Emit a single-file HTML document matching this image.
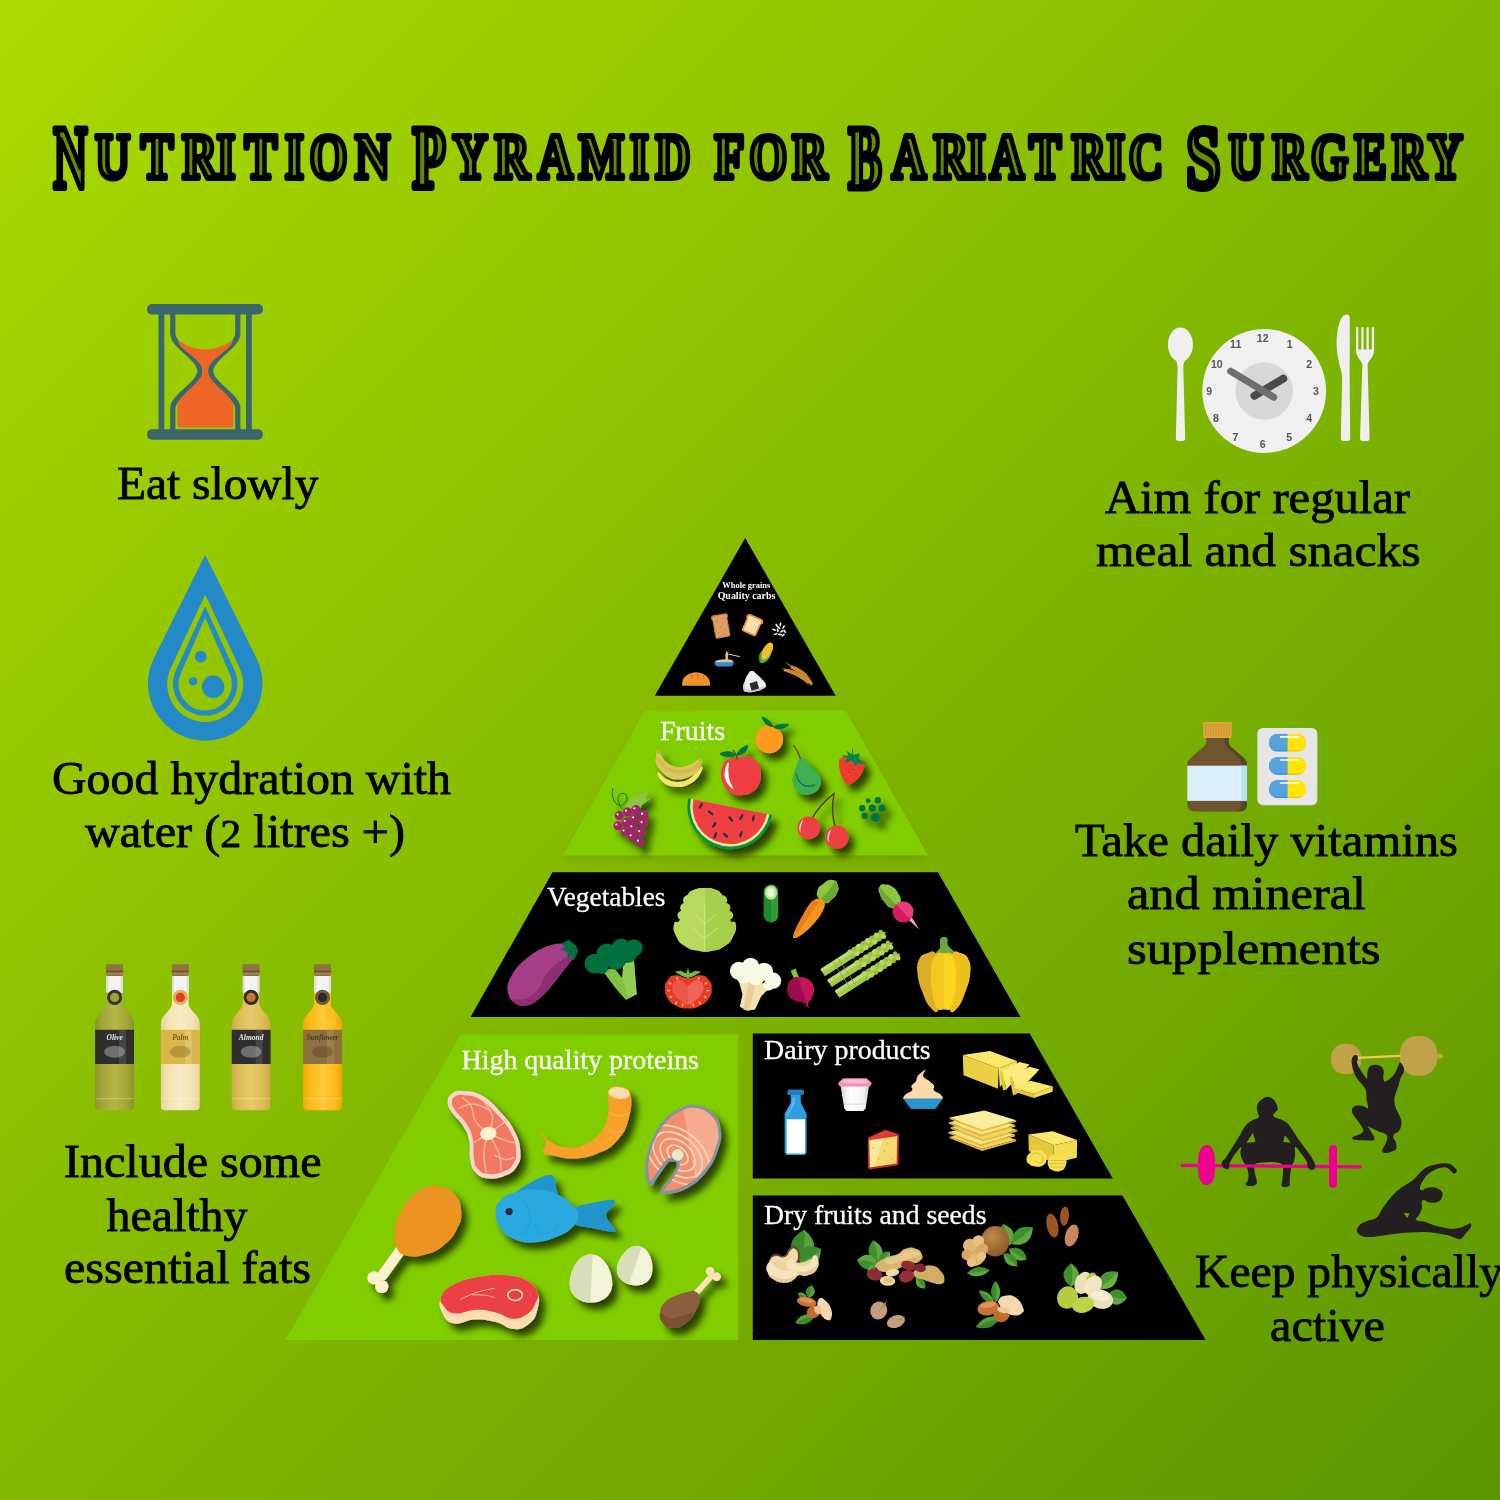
<!DOCTYPE html>
<html lang="en">
<head>
<meta charset="utf-8">
<title>Nutrition Pyramid for Bariatric Surgery</title>
<style>
html,body{margin:0;padding:0;}
body{width:1500px;height:1500px;overflow:hidden;background:#83b801;}
svg{display:block;}
.lbl{font-family:"Liberation Serif","DejaVu Serif",serif;font-size:46px;fill:#000;stroke:#000;stroke-width:0.8px;}
.cat{font-family:"Liberation Serif","DejaVu Serif",serif;font-size:28px;fill:#fff;stroke:#fff;stroke-width:0.3px;}
.ttl{font-family:"Liberation Serif","DejaVu Serif",serif;font-weight:bold;}
</style>
</head>
<body>
<svg width="1500" height="1500" viewBox="0 0 1500 1500">
<defs>
<linearGradient id="bg" gradientUnits="userSpaceOnUse" x1="0" y1="0" x2="1500" y2="1500">
<stop offset="0" stop-color="#abda00"/><stop offset="1" stop-color="#5b9602"/>
</linearGradient>
<filter id="sh" x="-30%" y="-30%" width="180%" height="180%">
<feGaussianBlur in="SourceAlpha" stdDeviation="3.6"/>
<feOffset dx="5.5" dy="6.5" result="o"/>
<feComponentTransfer><feFuncA type="linear" slope="0.68"/></feComponentTransfer>
<feMerge><feMergeNode/><feMergeNode in="SourceGraphic"/></feMerge>
</filter>
<filter id="shp" x="-10%" y="-10%" width="120%" height="130%">
<feGaussianBlur in="SourceAlpha" stdDeviation="5"/>
<feOffset dx="0" dy="5" result="o"/>
<feComponentTransfer><feFuncA type="linear" slope="0.1"/></feComponentTransfer>
<feMerge><feMergeNode/><feMergeNode in="SourceGraphic"/></feMerge>
</filter>
</defs>
<rect width="1500" height="1500" fill="url(#bg)"/>
<!-- title -->
<g class="ttl" opacity="0.999" text-anchor="middle" fill="#648c00" stroke="#000" stroke-width="6.0" stroke-linejoin="round">
<text x="70.3 112.6 157.0 199.6 226.0 260.8 294.4 328.6 372.4" y="187.2 177.6 177.6 177.6 177.6 177.6 177.6 177.6 177.6" font-size="63.5"><tspan font-size="88.0" stroke-width="7.2" textLength="33.7" lengthAdjust="spacingAndGlyphs">N</tspan><tspan textLength="244.0" lengthAdjust="spacingAndGlyphs" style="text-transform:uppercase">utrition</tspan></text>
<text x="429.2 470.2 512.2 555.4 601.6 639.4 673.0" y="187.2 177.6 177.6 177.6 177.6 177.6 177.6" font-size="63.5"><tspan font-size="88.0" stroke-width="7.2" textLength="33.3" lengthAdjust="spacingAndGlyphs">P</tspan><tspan textLength="203.7" lengthAdjust="spacingAndGlyphs" style="text-transform:uppercase">yramid</tspan></text>
<text x="729.4 768.4 809.8" y="177.6" font-size="63.5"><tspan textLength="101.9" lengthAdjust="spacingAndGlyphs" style="text-transform:uppercase">for</tspan></text>
<text x="865.0 908.8 950.8 976.6 1007.0 1045.0 1088.8 1115.8 1145.8" y="187.2 177.6 177.6 177.6 177.6 177.6 177.6 177.6 177.6" font-size="63.5"><tspan font-size="88.0" stroke-width="7.2" textLength="33.5" lengthAdjust="spacingAndGlyphs">B</tspan><tspan textLength="240.4" lengthAdjust="spacingAndGlyphs" style="text-transform:uppercase">ariatric</tspan></text>
<text x="1203.4 1246.0 1289.8 1329.6 1370.4 1409.4 1445.4" y="187.2 177.6 177.6 177.6 177.6 177.6 177.6" font-size="63.5"><tspan font-size="88.0" stroke-width="7.2" textLength="34.3" lengthAdjust="spacingAndGlyphs">S</tspan><tspan textLength="207.4" lengthAdjust="spacingAndGlyphs" style="text-transform:uppercase">urgery</tspan></text>
</g>
<!-- side labels -->
<g class="lbl" opacity="0.999">
<text x="117" y="499.3" textLength="201.5" lengthAdjust="spacingAndGlyphs">Eat slowly</text>
<text x="52" y="794" textLength="399" lengthAdjust="spacingAndGlyphs">Good hydration with</text>
<text x="85" y="846.5" textLength="320" lengthAdjust="spacingAndGlyphs">water (<tspan font-size="40">2</tspan> litres +)</text>
<text x="64" y="1177.3" textLength="257.5" lengthAdjust="spacingAndGlyphs">Include some</text>
<text x="106.5" y="1230.7" textLength="141" lengthAdjust="spacingAndGlyphs">healthy</text>
<text x="64" y="1282.7" textLength="247" lengthAdjust="spacingAndGlyphs">essential fats</text>
<text x="1105" y="512.5" textLength="305" lengthAdjust="spacingAndGlyphs">Aim for regular</text>
<text x="1096" y="566.1" textLength="324.5" lengthAdjust="spacingAndGlyphs">meal and snacks</text>
<text x="1075" y="856" textLength="383" lengthAdjust="spacingAndGlyphs">Take daily vitamins</text>
<text x="1127" y="909.1" textLength="239" lengthAdjust="spacingAndGlyphs">and mineral</text>
<text x="1127" y="964" textLength="253.5" lengthAdjust="spacingAndGlyphs">supplements</text>
<text x="1195" y="1286.9" textLength="308" lengthAdjust="spacingAndGlyphs">Keep physically</text>
<text x="1270" y="1341.3" textLength="115" lengthAdjust="spacingAndGlyphs">active</text>
</g>
<!-- pyramid -->
<g>
<polygon points="745.2,538 835.6,695.8 654.8,695.8" fill="#000"/>
<polygon points="645,710.4 845.6,710.4 927.8,855.2 562.8,855.2" fill="#81cd00" filter="url(#shp)"/>
<polygon points="552.5,872.2 938,872.2 1020.5,1017 470.6,1017" fill="#000"/>
<polygon points="460.8,1034.4 738.2,1034.4 738.2,1340 285.5,1340" fill="#81cd00"/>
<polygon points="752.8,1033.4 1029.6,1033.4 1112.8,1178.4 752.8,1178.4" fill="#000"/>
<polygon points="752.8,1195.4 1122.4,1195.4 1205.6,1340 752.8,1340" fill="#000"/>
</g>
<g class="cat" opacity="0.999">
<text x="660" y="740.4" textLength="65" lengthAdjust="spacingAndGlyphs">Fruits</text>
<text x="547" y="905.6" textLength="118.5" lengthAdjust="spacingAndGlyphs">Vegetables</text>
<text x="461.5" y="1069.4" textLength="237.5" lengthAdjust="spacingAndGlyphs">High quality proteins</text>
<text x="764" y="1058.6" textLength="166.5" lengthAdjust="spacingAndGlyphs">Dairy products</text>
<text x="764" y="1224.0" textLength="222.5" lengthAdjust="spacingAndGlyphs">Dry fruits and seeds</text>
</g>
<g font-family='"Liberation Serif","DejaVu Serif",serif' font-weight="bold" fill="#fff" text-anchor="middle" opacity="0.999">
<text x="746.3" y="587.6" font-size="8.3" textLength="48" lengthAdjust="spacingAndGlyphs">Whole grains</text>
<text x="746.5" y="599" font-size="10" textLength="57.7" lengthAdjust="spacingAndGlyphs">Quality carbs</text>
</g>
<!-- hourglass -->
<g>
<rect x="147" y="304" width="116" height="10.4" rx="5" fill="#3b666b"/>
<rect x="147" y="429.3" width="116" height="10.4" rx="5" fill="#3b666b"/>
<rect x="158.5" y="312" width="5.8" height="120" fill="#3b666b"/>
<rect x="246" y="312" width="5.8" height="120" fill="#3b666b"/>
<path d="M172.8,312 V334 C172.8,346 200,358 200,371 C200,384 172.8,396 172.8,408 V432 M237.8,312 V334 C237.8,346 210.6,358 210.6,371 C210.6,384 237.8,396 237.8,408 V432" fill="none" stroke="#3b666b" stroke-width="5.2"/>
<path d="M177.6,340 Q205.3,359 233,340 C232,350 208.2,359 207.8,371 C208.2,383 233,395 233.2,406 V424.5 Q233.2,427.6 230,427.6 H180.6 Q177.4,427.6 177.4,424.5 V406 C177.6,395 202.4,383 202.8,371 C202.4,359 178.6,350 177.6,340 Z" fill="#ee6528"/>
</g>
<!-- water drop -->
<g>
<path fill-rule="evenodd" d="M205.2,554.8 L256.4,658.0 A57.2,57.2 0 1 1 154.0,658.0 Z M205.2,594.5 L239.6,667.9 A38.0,38.0 0 1 1 170.8,667.9 Z M205.2,606.2 L234.5,670.2 A32.2,32.2 0 1 1 175.9,670.2 Z M205.2,617.4 L229.6,673.4 A26.6,26.6 0 1 1 180.8,673.4 Z" fill="#2489c7"/>
<circle cx="200.8" cy="656.6" r="5.9" fill="#2489c7"/><circle cx="193.1" cy="681.3" r="4.1" fill="#2489c7"/><circle cx="213.1" cy="686.8" r="11.2" fill="#2489c7"/>
</g>
<!-- plate clock + cutlery -->
<g>
<ellipse cx="1180.4" cy="344.6" rx="12.5" ry="17.2" fill="#efeff0"/>
<path d="M1174,356 C1177,362 1177.6,364 1177.6,368 L1175.8,438.8 Q1175.8,440.9 1178,440.9 H1183 Q1185.2,440.9 1185.2,438.8 L1183.3,368 C1183.3,364 1184,362 1187,356 Z" fill="#efeff0"/>
<circle cx="1264.2" cy="391" r="61.9" fill="#f0f0f1"/>
<circle cx="1264.2" cy="391" r="28.8" fill="#d8d8d8"/>
<g font-family='"Liberation Sans","DejaVu Sans",sans-serif' font-weight="bold" font-size="10.6" fill="#555" text-anchor="middle" opacity="0.999">
<text x="1262.7" y="341.7">12</text><text x="1289.6" y="348.1">1</text><text x="1309.3" y="368.3">2</text><text x="1316.0" y="395.0">3</text><text x="1309.3" y="422.2">4</text><text x="1289.3" y="441.4">5</text><text x="1262.7" y="448.3">6</text><text x="1235.5" y="441.4">7</text><text x="1216.0" y="421.9">8</text><text x="1209.1" y="395.0">9</text><text x="1216.8" y="368.3">10</text><text x="1235.7" y="348.1">11</text>
</g>
<line x1="1254.3" y1="395.8" x2="1283.3" y2="378.6" stroke="#4a4a4a" stroke-width="7.8" stroke-linecap="round"/>
<line x1="1230.7" y1="371.3" x2="1273.8" y2="397.2" stroke="#6e6e6e" stroke-width="7" stroke-linecap="round"/>
<path d="M1346.6,314.4 C1349,314.4 1349.8,316 1349.8,318 L1349.6,375 L1350.2,438.8 Q1350.2,440.9 1348,440.9 H1343 Q1340.8,440.9 1340.8,438.8 L1342.2,376 C1341,368 1336.6,358 1336.6,343 C1336.6,330 1340,314.4 1346.6,314.4 Z" fill="#efeff0"/>
<path d="M1356,327.2 H1358.3 V349.5 H1361.3 V327.2 H1363.6 V349.5 H1366.5 V327.2 H1368.8 V349.5 H1371.8 V327.2 H1374.1 V350 C1374.1,357 1369,360 1367.6,364.5 L1369.6,438.8 Q1369.6,440.9 1367.4,440.9 H1362.2 Q1360,440.9 1360,438.8 L1362.4,364.5 C1361,360 1356,357 1356,350 Z" fill="#efeff0"/>
</g>
<!-- vitamins -->
<g>
<clipPath id="vb"><path d="M1206.3,737 V741 C1206.3,744 1205,745.5 1203,747.3 L1190.5,758 C1188.3,760 1187.3,762 1187.3,765 V804 Q1187.3,811.5 1194.8,811.5 H1239.5 Q1247,811.5 1247,804 V765 C1247,762 1246,760 1243.8,758 L1231.3,747.3 C1229.6,745.5 1228.7,744 1228.7,741 V737 Z"/></clipPath>
<path d="M1206.3,737 V741 C1206.3,744 1205,745.5 1203,747.3 L1190.5,758 C1188.3,760 1187.3,762 1187.3,765 V804 Q1187.3,811.5 1194.8,811.5 H1239.5 Q1247,811.5 1247,804 V765 C1247,762 1246,760 1243.8,758 L1231.3,747.3 C1229.6,745.5 1228.7,744 1228.7,741 V737 Z" fill="#6c5530"/>
<g clip-path="url(#vb)"><path d="M1224.5,737 V741 C1224.5,744 1225.4,745.5 1227.1,747.3 L1238.6,758 C1240.8,760 1241.3,762 1241.3,765 V804 Q1241.3,811.5 1232,811.5 H1250 V737 Z" fill="#584526"/><rect x="1187" y="765.7" width="61" height="35.2" fill="#d9effc"/><rect x="1241.3" y="765.7" width="6" height="35.2" fill="#b3e0f8"/></g>
<rect x="1203.1" y="721.9" width="28.6" height="16" rx="1.3" fill="#e0a63c"/>
<path d="M1205.6,723.5 V736.3 M1208.2,723.5 V736.3 M1210.8,723.5 V736.3 M1213.4,723.5 V736.3 M1216.0,723.5 V736.3 M1218.6,723.5 V736.3 M1221.2,723.5 V736.3 M1223.8,723.5 V736.3 M1226.4,723.5 V736.3 M1229.0,723.5 V736.3" stroke="#cf9833" stroke-width="1.3" fill="none"/>
<rect x="1257.5" y="728.4" width="59.9" height="77" rx="5.3" fill="#c9c9d2"/>
<rect x="1257.5" y="727.9" width="59.6" height="76.6" rx="5.3" fill="#e6e6e6"/>
<clipPath id="cp0"><rect x="1269" y="733.7" width="37" height="18.1" rx="9.0"/></clipPath><g clip-path="url(#cp0)"><rect x="1269" y="733.7" width="18.7" height="18.1" fill="#3f8fd2"/><rect x="1287.7" y="733.7" width="18.4" height="18.1" fill="#f4c400"/><rect x="1269" y="733.7" width="18.7" height="14.9" fill="#55a2dc"/><rect x="1287.7" y="733.7" width="18.4" height="14.9" fill="#ffe600"/><rect x="1269" y="742.2" width="18.7" height="8" rx="4" fill="#55a2dc"/><rect x="1287.7" y="742.2" width="18.4" height="8" rx="4" fill="#ffe600"/><rect x="1280" y="742.2" width="7.7" height="8" fill="#55a2dc"/><rect x="1287.7" y="742.2" width="8" height="8" fill="#ffe600"/></g><line x1="1280.6" y1="736.8" x2="1298.6" y2="736.8" stroke="#fff" stroke-width="1.7" stroke-linecap="round"/>
<clipPath id="cp1"><rect x="1269" y="756.9" width="37" height="18.0" rx="9.0"/></clipPath><g clip-path="url(#cp1)"><rect x="1269" y="756.9" width="18.7" height="18.0" fill="#3f8fd2"/><rect x="1287.7" y="756.9" width="18.4" height="18.0" fill="#f4c400"/><rect x="1269" y="756.9" width="18.7" height="14.8" fill="#55a2dc"/><rect x="1287.7" y="756.9" width="18.4" height="14.8" fill="#ffe600"/><rect x="1269" y="765.3" width="18.7" height="8" rx="4" fill="#55a2dc"/><rect x="1287.7" y="765.3" width="18.4" height="8" rx="4" fill="#ffe600"/><rect x="1280" y="765.3" width="7.7" height="8" fill="#55a2dc"/><rect x="1287.7" y="765.3" width="8" height="8" fill="#ffe600"/></g><line x1="1280.6" y1="760.0" x2="1298.6" y2="760.0" stroke="#fff" stroke-width="1.7" stroke-linecap="round"/>
<clipPath id="cp2"><rect x="1269" y="779.9" width="37" height="18.4" rx="9.2"/></clipPath><g clip-path="url(#cp2)"><rect x="1269" y="779.9" width="18.7" height="18.4" fill="#3f8fd2"/><rect x="1287.7" y="779.9" width="18.4" height="18.4" fill="#f4c400"/><rect x="1269" y="779.9" width="18.7" height="15.2" fill="#55a2dc"/><rect x="1287.7" y="779.9" width="18.4" height="15.2" fill="#ffe600"/><rect x="1269" y="788.7" width="18.7" height="8" rx="4" fill="#55a2dc"/><rect x="1287.7" y="788.7" width="18.4" height="8" rx="4" fill="#ffe600"/><rect x="1280" y="788.7" width="7.7" height="8" fill="#55a2dc"/><rect x="1287.7" y="788.7" width="8" height="8" fill="#ffe600"/></g><line x1="1280.6" y1="783.0" x2="1298.6" y2="783.0" stroke="#fff" stroke-width="1.7" stroke-linecap="round"/>
</g>
<!-- oil bottles -->
<g opacity="0.999">
<linearGradient id="ol1" gradientUnits="userSpaceOnUse" x1="95.1" y1="0" x2="134.0" y2="0"><stop offset="0" stop-color="#8d9130"/><stop offset="0.18" stop-color="#a4a738"/><stop offset="0.5" stop-color="#b3b545"/><stop offset="0.82" stop-color="#a4a738"/><stop offset="1" stop-color="#8d9130"/></linearGradient>
<clipPath id="oc1"><path d="M106.3,975 V1003 C106.3,1011 95.1,1014 95.1,1024 V1106.5 Q95.1,1110.2 99.1,1110.2 H130.0 Q134.0,1110.2 134.0,1106.5 V1024 C134.0,1014 122.9,1011 122.9,1003 V975 Z"/></clipPath>
<path d="M106.3,975 V1003 C106.3,1011 95.1,1014 95.1,1024 V1106.5 Q95.1,1110.2 99.1,1110.2 H130.0 Q134.0,1110.2 134.0,1106.5 V1024 C134.0,1014 122.9,1011 122.9,1003 V975 Z" fill="url(#ol1)"/>
<g clip-path="url(#oc1)"><rect x="105.3" y="974" width="18.6" height="18.5" fill="#f4f4f4"/><rect x="106.3" y="974" width="2" height="18.5" fill="#dcdcdc"/><rect x="120.9" y="974" width="2" height="18.5" fill="#dcdcdc"/><rect x="94.1" y="1029.8" width="40.9" height="34.2" fill="#2e2e2e"/><rect x="119.1" y="1029.8" width="7" height="34.2" fill="#5a5a5a" opacity="0.55"/><rect x="95.1" y="1098" width="38.9" height="1.2" fill="#fff" opacity="0.25"/></g>
<rect x="106.1" y="964.3" width="17" height="11.6" rx="0.8" fill="#8e7442"/><rect x="106.1" y="970.6" width="17" height="1.5" fill="#6b5430"/><rect x="106.1" y="973.3" width="17" height="1" fill="#a88c58"/>
<circle cx="114.6" cy="997.4" r="7.6" fill="#34341f"/><circle cx="114.6" cy="997.4" r="4.6" fill="#9ba23a"/>
<text x="114.6" y="1040" font-family='"Liberation Serif","DejaVu Serif",serif' font-style="italic" font-weight="bold" font-size="7.5" text-anchor="middle" fill="#e8e8e8">Olive</text>
<ellipse cx="114.6" cy="1051.8" rx="10.5" ry="6" fill="#e8e8e8" opacity="0.35"/>
<linearGradient id="ol2" gradientUnits="userSpaceOnUse" x1="160.9" y1="0" x2="199.8" y2="0"><stop offset="0" stop-color="#e6d39a"/><stop offset="0.18" stop-color="#f3e3b2"/><stop offset="0.5" stop-color="#f8ecc8"/><stop offset="0.82" stop-color="#f3e3b2"/><stop offset="1" stop-color="#e6d39a"/></linearGradient>
<clipPath id="oc2"><path d="M172.0,975 V1003 C172.0,1011 160.9,1014 160.9,1024 V1106.5 Q160.9,1110.2 164.9,1110.2 H195.8 Q199.8,1110.2 199.8,1106.5 V1024 C199.8,1014 188.6,1011 188.6,1003 V975 Z"/></clipPath>
<path d="M172.0,975 V1003 C172.0,1011 160.9,1014 160.9,1024 V1106.5 Q160.9,1110.2 164.9,1110.2 H195.8 Q199.8,1110.2 199.8,1106.5 V1024 C199.8,1014 188.6,1011 188.6,1003 V975 Z" fill="url(#ol2)"/>
<g clip-path="url(#oc2)"><rect x="171.0" y="974" width="18.6" height="18.5" fill="#f4f4f4"/><rect x="172.0" y="974" width="2" height="18.5" fill="#dcdcdc"/><rect x="186.6" y="974" width="2" height="18.5" fill="#dcdcdc"/><rect x="159.9" y="1029.8" width="40.9" height="34.2" fill="#d9b54a"/><rect x="184.8" y="1029.8" width="7" height="34.2" fill="#e8cf7a" opacity="0.55"/><rect x="160.9" y="1098" width="38.9" height="1.2" fill="#fff" opacity="0.25"/></g>
<rect x="171.8" y="964.3" width="17" height="11.6" rx="0.8" fill="#8e7442"/><rect x="171.8" y="970.6" width="17" height="1.5" fill="#6b5430"/><rect x="171.8" y="973.3" width="17" height="1" fill="#a88c58"/>
<circle cx="180.3" cy="997.4" r="7.6" fill="#d9b54a"/><circle cx="180.3" cy="997.4" r="4.6" fill="#e23a2e"/>
<text x="180.3" y="1040" font-family='"Liberation Serif","DejaVu Serif",serif' font-style="italic" font-weight="bold" font-size="7.5" text-anchor="middle" fill="#7a5a1e">Palm</text>
<ellipse cx="180.3" cy="1051.8" rx="10.5" ry="6" fill="#7a5a1e" opacity="0.35"/>
<linearGradient id="ol3" gradientUnits="userSpaceOnUse" x1="231.7" y1="0" x2="270.6" y2="0"><stop offset="0" stop-color="#c9a943"/><stop offset="0.18" stop-color="#dbbd55"/><stop offset="0.5" stop-color="#e4ca6a"/><stop offset="0.82" stop-color="#dbbd55"/><stop offset="1" stop-color="#c9a943"/></linearGradient>
<clipPath id="oc3"><path d="M242.8,975 V1003 C242.8,1011 231.7,1014 231.7,1024 V1106.5 Q231.7,1110.2 235.7,1110.2 H266.6 Q270.6,1110.2 270.6,1106.5 V1024 C270.6,1014 259.4,1011 259.4,1003 V975 Z"/></clipPath>
<path d="M242.8,975 V1003 C242.8,1011 231.7,1014 231.7,1024 V1106.5 Q231.7,1110.2 235.7,1110.2 H266.6 Q270.6,1110.2 270.6,1106.5 V1024 C270.6,1014 259.4,1011 259.4,1003 V975 Z" fill="url(#ol3)"/>
<g clip-path="url(#oc3)"><rect x="241.8" y="974" width="18.6" height="18.5" fill="#f4f4f4"/><rect x="242.8" y="974" width="2" height="18.5" fill="#dcdcdc"/><rect x="257.4" y="974" width="2" height="18.5" fill="#dcdcdc"/><rect x="230.7" y="1029.8" width="40.9" height="34.2" fill="#2e2e2e"/><rect x="255.6" y="1029.8" width="7" height="34.2" fill="#5a5a5a" opacity="0.55"/><rect x="231.7" y="1098" width="38.9" height="1.2" fill="#fff" opacity="0.25"/></g>
<rect x="242.6" y="964.3" width="17" height="11.6" rx="0.8" fill="#8e7442"/><rect x="242.6" y="970.6" width="17" height="1.5" fill="#6b5430"/><rect x="242.6" y="973.3" width="17" height="1" fill="#a88c58"/>
<circle cx="251.1" cy="997.4" r="7.6" fill="#34301f"/><circle cx="251.1" cy="997.4" r="4.6" fill="#c8743a"/>
<text x="251.1" y="1040" font-family='"Liberation Serif","DejaVu Serif",serif' font-style="italic" font-weight="bold" font-size="7.5" text-anchor="middle" fill="#e8e8e8">Almond</text>
<ellipse cx="251.1" cy="1051.8" rx="10.5" ry="6" fill="#e8e8e8" opacity="0.35"/>
<linearGradient id="ol4" gradientUnits="userSpaceOnUse" x1="303.1" y1="0" x2="341.9" y2="0"><stop offset="0" stop-color="#f2a60c"/><stop offset="0.18" stop-color="#fdbb18"/><stop offset="0.5" stop-color="#ffc93a"/><stop offset="0.82" stop-color="#fdbb18"/><stop offset="1" stop-color="#f2a60c"/></linearGradient>
<clipPath id="oc4"><path d="M314.2,975 V1003 C314.2,1011 303.1,1014 303.1,1024 V1106.5 Q303.1,1110.2 307.1,1110.2 H337.9 Q341.9,1110.2 341.9,1106.5 V1024 C341.9,1014 330.8,1011 330.8,1003 V975 Z"/></clipPath>
<path d="M314.2,975 V1003 C314.2,1011 303.1,1014 303.1,1024 V1106.5 Q303.1,1110.2 307.1,1110.2 H337.9 Q341.9,1110.2 341.9,1106.5 V1024 C341.9,1014 330.8,1011 330.8,1003 V975 Z" fill="url(#ol4)"/>
<g clip-path="url(#oc4)"><rect x="313.2" y="974" width="18.6" height="18.5" fill="#f4f4f4"/><rect x="314.2" y="974" width="2" height="18.5" fill="#dcdcdc"/><rect x="328.8" y="974" width="2" height="18.5" fill="#dcdcdc"/><rect x="302.1" y="1029.8" width="40.9" height="34.2" fill="#8f7140"/><rect x="327.0" y="1029.8" width="7" height="34.2" fill="#a98a58" opacity="0.55"/><rect x="303.1" y="1098" width="38.9" height="1.2" fill="#fff" opacity="0.25"/></g>
<rect x="314.0" y="964.3" width="17" height="11.6" rx="0.8" fill="#8e7442"/><rect x="314.0" y="970.6" width="17" height="1.5" fill="#6b5430"/><rect x="314.0" y="973.3" width="17" height="1" fill="#a88c58"/>
<circle cx="322.5" cy="997.4" r="7.6" fill="#6e5a34"/><circle cx="322.5" cy="997.4" r="4.6" fill="#2a2a2a"/>
<text x="322.5" y="1040" font-family='"Liberation Serif","DejaVu Serif",serif' font-style="italic" font-weight="bold" font-size="7.5" text-anchor="middle" fill="#4a3a1e">Sunflower</text>
<ellipse cx="322.5" cy="1051.8" rx="10.5" ry="6" fill="#4a3a1e" opacity="0.35"/>
</g>
<!-- exercise figures -->
<g>
<rect x="1198" y="1144.9" width="17.1" height="40.2" rx="8.5" ry="15" fill="#ec008c"/>
<rect x="1329" y="1145.3" width="8" height="42.4" rx="3.4" fill="#ec008c"/>
<path fill-rule="evenodd" d="M1268.0,1096.7C1269.8,1096.8 1271.9,1098.0 1273.3,1099.3C1274.8,1100.7 1275.9,1103.0 1276.7,1104.7C1277.4,1106.4 1278.0,1108.3 1277.7,1109.6C1277.5,1110.9 1276.1,1111.4 1275.3,1112.3C1274.6,1113.2 1273.4,1114.1 1273.3,1114.9C1273.2,1115.8 1273.4,1116.6 1274.7,1117.3C1275.9,1118.1 1278.6,1118.3 1280.7,1119.3C1282.8,1120.3 1285.4,1121.7 1287.3,1123.3C1289.2,1125.0 1290.2,1126.8 1292.0,1129.3C1293.8,1131.9 1296.0,1135.8 1298.0,1138.7C1300.0,1141.6 1302.1,1144.1 1304.0,1146.7C1305.9,1149.2 1307.8,1151.7 1309.3,1154.0C1310.9,1156.3 1312.3,1158.4 1313.3,1160.7C1314.3,1162.9 1315.6,1165.8 1315.3,1167.3C1315.1,1168.8 1313.2,1169.5 1312.0,1169.6C1310.8,1169.7 1309.1,1169.0 1308.3,1167.7C1307.4,1166.5 1308.2,1164.3 1307.1,1162.0C1305.9,1159.7 1303.3,1156.3 1301.3,1153.7C1299.4,1151.2 1296.4,1146.5 1295.3,1146.7C1294.3,1146.8 1295.3,1152.2 1295.1,1154.7C1294.8,1157.1 1294.6,1159.4 1294.0,1161.3C1293.4,1163.2 1292.2,1164.0 1291.6,1166.0C1291.0,1168.0 1290.7,1170.7 1290.4,1173.3C1290.1,1176.0 1289.7,1180.0 1289.6,1182.0C1289.5,1184.0 1290.3,1184.8 1289.7,1185.6C1289.1,1186.4 1287.3,1187.0 1286.0,1187.1C1284.7,1187.2 1282.3,1187.3 1281.7,1186.1C1281.1,1185.0 1282.2,1182.4 1282.4,1180.0C1282.6,1177.6 1283.0,1174.4 1283.1,1172.0C1283.1,1169.6 1283.4,1166.8 1282.8,1165.3C1282.2,1163.8 1281.2,1163.5 1279.3,1162.9C1277.4,1162.4 1274.0,1162.0 1271.3,1161.9C1268.7,1161.8 1265.8,1162.2 1263.3,1162.4C1260.9,1162.6 1258.2,1162.5 1256.7,1163.2C1255.2,1163.9 1254.6,1165.0 1254.3,1166.7C1254.0,1168.4 1254.5,1170.8 1254.9,1173.3C1255.4,1175.9 1256.9,1180.1 1256.9,1182.0C1257.0,1183.9 1256.5,1184.2 1255.3,1184.9C1254.2,1185.6 1251.6,1186.2 1250.0,1186.1C1248.4,1186.0 1245.9,1185.4 1245.6,1184.4C1245.3,1183.4 1247.5,1181.8 1248.0,1180.0C1248.5,1178.2 1248.6,1175.6 1248.4,1173.3C1248.2,1171.1 1247.6,1168.8 1246.7,1166.7C1245.7,1164.6 1243.7,1163.0 1242.7,1160.7C1241.6,1158.3 1240.6,1155.0 1240.4,1152.7C1240.2,1150.3 1242.0,1146.8 1241.3,1146.7C1240.7,1146.6 1238.2,1150.0 1236.7,1152.0C1235.1,1154.0 1233.3,1156.4 1232.0,1158.7C1230.7,1160.9 1229.3,1163.6 1228.7,1165.3C1228.0,1167.1 1228.8,1168.7 1228.0,1169.1C1227.2,1169.4 1224.6,1168.4 1223.6,1167.6C1222.6,1166.8 1221.4,1165.5 1221.7,1164.0C1222.0,1162.5 1223.6,1161.1 1225.3,1158.4C1227.0,1155.7 1229.8,1151.5 1232.0,1148.0C1234.2,1144.5 1236.6,1140.8 1238.7,1137.3C1240.7,1133.9 1242.5,1130.0 1244.4,1127.3C1246.3,1124.7 1248.0,1123.1 1250.0,1121.6C1252.0,1120.1 1255.2,1119.2 1256.7,1118.4C1258.2,1117.6 1258.8,1117.3 1259.1,1116.7C1259.4,1116.0 1258.9,1115.6 1258.5,1114.4C1258.2,1113.2 1257.0,1111.2 1256.9,1109.3C1256.8,1107.5 1257.0,1105.1 1258.0,1103.3C1259.0,1101.6 1261.0,1099.8 1262.7,1098.7C1264.3,1097.6 1266.2,1096.6 1268.0,1096.7Z M1252.8,1132.8 L1246.5,1142.7 L1255.6,1142.1Z M1284.9,1135.2 L1283.2,1142.1 L1290.9,1142.8Z" fill="#231f20"/>
<path d="M1180.7,1165.3 L1361.3,1166.9" stroke="#ec008c" stroke-width="3.3" fill="none"/>
<path d="M1221.7,1164.0C1221.6,1162.7 1222.4,1160.7 1223.3,1160.0C1224.3,1159.3 1226.3,1159.2 1227.3,1160.0C1228.3,1160.8 1229.2,1163.2 1229.3,1164.7C1229.5,1166.2 1229.2,1168.5 1228.3,1169.1C1227.4,1169.6 1225.1,1168.8 1224.0,1168.0C1222.9,1167.2 1221.8,1165.3 1221.7,1164.0Z" fill="#231f20"/><path d="M1308.3,1167.7C1307.5,1166.7 1307.0,1164.6 1307.3,1163.3C1307.6,1162.0 1308.9,1160.3 1310.0,1160.0C1311.1,1159.7 1312.8,1160.4 1313.7,1161.6C1314.6,1162.8 1315.6,1166.0 1315.3,1167.3C1315.0,1168.7 1313.2,1169.7 1312.0,1169.7C1310.8,1169.8 1309.0,1168.8 1308.3,1167.7Z" fill="#231f20"/>
<rect x="1331" y="1043.7" width="30.2" height="30.3" rx="13.5" fill="#c0a24a"/>
<rect x="1400" y="1035.9" width="37.3" height="39.9" rx="17" fill="#c0a24a"/>
<rect x="1434" y="1053.8" width="8.8" height="4.6" rx="2.2" fill="#c0a24a"/>
<path d="M1356,1057.9 L1400.5,1055.8" stroke="#efc85a" stroke-width="2.3" fill="none"/>
<path d="M1355.1,1055.0C1356.0,1054.7 1357.1,1055.2 1357.6,1056.0C1358.0,1056.8 1357.8,1058.9 1357.7,1059.9C1357.6,1060.9 1356.7,1060.7 1357.0,1062.2C1357.4,1063.8 1358.7,1066.8 1359.9,1069.0C1361.1,1071.2 1363.0,1073.9 1364.2,1075.5C1365.4,1077.1 1366.6,1079.0 1367.1,1078.5C1367.6,1078.0 1367.0,1074.4 1367.4,1072.5C1367.8,1070.5 1368.2,1068.1 1369.4,1066.8C1370.7,1065.6 1373.1,1064.9 1375.1,1064.8C1377.0,1064.8 1379.7,1065.4 1381.1,1066.4C1382.6,1067.4 1383.4,1069.0 1383.7,1070.7C1384.1,1072.5 1383.2,1075.0 1383.3,1076.8C1383.4,1078.6 1383.5,1081.1 1384.4,1081.6C1385.4,1082.0 1387.3,1080.6 1388.9,1079.4C1390.6,1078.2 1392.7,1076.2 1394.1,1074.2C1395.6,1072.2 1396.7,1069.2 1397.6,1067.3C1398.5,1065.3 1399.0,1062.9 1399.8,1062.5C1400.6,1062.1 1401.6,1063.3 1402.4,1064.7C1403.1,1066.0 1404.4,1068.5 1404.1,1070.7C1403.8,1073.0 1401.6,1075.6 1400.6,1078.1C1399.7,1080.6 1399.1,1083.4 1398.5,1085.5C1397.8,1087.6 1397.4,1088.6 1396.7,1090.7C1396.1,1092.7 1394.9,1095.1 1394.6,1097.6C1394.3,1100.1 1394.4,1102.8 1395.0,1105.4C1395.6,1108.0 1397.3,1110.7 1398.3,1113.2C1399.3,1115.7 1400.8,1117.8 1401.2,1120.1C1401.7,1122.4 1401.4,1125.1 1400.9,1127.1C1400.4,1129.1 1399.2,1130.9 1398.0,1132.1C1396.9,1133.3 1394.9,1133.1 1394.1,1134.2C1393.4,1135.2 1393.2,1137.1 1393.4,1138.3C1393.7,1139.6 1395.2,1140.1 1395.7,1141.8C1396.2,1143.5 1396.8,1147.1 1396.3,1148.7C1395.8,1150.3 1394.1,1150.6 1392.4,1151.3C1390.7,1152.1 1387.6,1153.1 1385.9,1153.1C1384.2,1153.0 1382.1,1152.3 1382.0,1150.9C1381.9,1149.5 1384.2,1146.9 1385.0,1144.8C1385.9,1142.8 1387.0,1140.5 1387.2,1138.8C1387.4,1137.0 1387.8,1135.6 1386.3,1134.4C1384.9,1133.2 1381.0,1132.6 1378.5,1131.6C1376.1,1130.5 1373.3,1129.0 1371.6,1128.1C1369.9,1127.2 1368.2,1125.8 1368.1,1126.4C1368.0,1126.9 1370.0,1129.8 1370.9,1131.4C1371.8,1133.0 1373.3,1134.7 1373.8,1136.2C1374.2,1137.6 1375.3,1139.6 1373.8,1140.2C1372.2,1140.9 1367.8,1140.3 1364.7,1140.2C1361.5,1140.2 1356.8,1140.1 1354.7,1139.7C1352.6,1139.3 1352.0,1138.5 1352.1,1137.9C1352.2,1137.3 1353.8,1136.6 1355.1,1135.9C1356.5,1135.3 1359.0,1134.9 1360.3,1134.0C1361.7,1133.1 1363.4,1132.1 1363.4,1130.5C1363.4,1128.9 1361.7,1126.6 1360.3,1124.5C1359.0,1122.3 1356.7,1119.6 1355.3,1117.5C1353.9,1115.5 1352.5,1113.9 1352.1,1112.3C1351.7,1110.7 1351.9,1109.1 1352.7,1108.0C1353.5,1106.9 1355.2,1105.9 1356.9,1105.6C1358.6,1105.2 1361.1,1105.5 1362.9,1105.9C1364.8,1106.3 1367.5,1109.1 1368.1,1108.0C1368.7,1106.9 1366.9,1102.2 1366.6,1099.3C1366.2,1096.4 1366.6,1093.0 1366.0,1090.7C1365.4,1088.4 1364.4,1087.5 1362.9,1085.5C1361.4,1083.4 1358.6,1081.0 1357.0,1078.5C1355.5,1076.1 1354.3,1073.3 1353.4,1070.7C1352.5,1068.1 1351.9,1065.1 1351.7,1062.9C1351.5,1060.8 1351.7,1059.1 1352.3,1057.7C1352.9,1056.4 1354.3,1055.2 1355.1,1055.0Z" fill="#231f20"/>
<path fill-rule="evenodd" d="M1457.0,1171.0C1456.9,1172.0 1455.1,1173.7 1454.0,1173.6C1452.9,1173.6 1452.0,1171.7 1450.5,1170.6C1449.1,1169.5 1447.6,1167.6 1445.3,1167.3C1443.0,1167.0 1439.6,1167.9 1436.7,1169.0C1433.8,1170.2 1430.3,1172.2 1428.0,1174.2C1425.7,1176.2 1424.2,1178.7 1422.8,1181.0C1421.4,1183.3 1419.9,1186.4 1419.8,1187.9C1419.6,1189.5 1421.0,1190.3 1421.9,1190.4C1422.9,1190.4 1423.5,1188.9 1425.4,1188.4C1427.3,1187.8 1430.7,1187.0 1433.2,1187.2C1435.7,1187.5 1438.6,1188.5 1440.1,1189.7C1441.7,1190.8 1442.5,1192.3 1442.6,1194.0C1442.6,1195.7 1441.8,1198.6 1440.6,1200.1C1439.3,1201.5 1436.9,1202.3 1434.9,1202.7C1433.0,1203.0 1430.7,1202.7 1428.9,1202.2C1427.0,1201.8 1424.9,1199.9 1423.7,1199.9C1422.5,1199.9 1421.9,1200.8 1421.6,1202.2C1421.3,1203.7 1422.5,1206.5 1421.9,1208.7C1421.4,1211.0 1419.4,1213.8 1418.5,1215.7C1417.5,1217.5 1414.7,1218.9 1416.0,1220.0C1417.3,1221.1 1422.8,1221.2 1426.3,1222.2C1429.7,1223.2 1432.8,1225.0 1436.7,1226.1C1440.6,1227.1 1445.6,1228.5 1449.7,1228.7C1453.7,1228.9 1457.9,1228.1 1460.9,1227.4C1464.0,1226.6 1466.3,1225.0 1467.9,1224.3C1469.5,1223.7 1470.0,1222.9 1470.5,1223.3C1471.0,1223.7 1471.6,1225.3 1470.9,1226.9C1470.2,1228.6 1467.7,1231.1 1466.1,1233.0C1464.6,1234.9 1463.1,1237.2 1461.8,1238.2C1460.5,1239.2 1460.4,1239.5 1458.3,1239.1C1456.3,1238.7 1453.3,1236.8 1449.7,1235.8C1446.1,1234.8 1441.0,1233.8 1436.7,1233.2C1432.3,1232.6 1428.0,1232.2 1423.7,1232.1C1419.3,1232.0 1415.0,1232.3 1410.7,1232.6C1406.3,1232.8 1402.0,1233.0 1397.7,1233.4C1393.3,1233.9 1389.0,1234.6 1384.7,1235.2C1380.3,1235.7 1375.3,1236.7 1371.7,1236.9C1368.1,1237.1 1365.3,1237.1 1363.0,1236.5C1360.7,1235.8 1358.8,1234.2 1357.8,1233.0C1356.8,1231.8 1356.5,1231.0 1356.9,1229.5C1357.4,1228.1 1358.7,1225.7 1360.4,1224.3C1362.1,1222.9 1364.7,1222.1 1367.3,1221.0C1369.9,1220.0 1373.8,1219.7 1376.0,1218.3C1378.2,1216.8 1378.9,1214.4 1380.3,1212.2C1381.8,1210.0 1382.9,1207.7 1384.7,1205.3C1386.4,1202.8 1388.4,1200.1 1390.7,1197.5C1393.0,1194.9 1395.9,1191.8 1398.5,1189.7C1401.1,1187.5 1404.0,1186.0 1406.3,1184.5C1408.6,1183.0 1410.2,1182.4 1412.4,1180.6C1414.6,1178.7 1417.2,1175.5 1419.3,1173.4C1421.5,1171.3 1423.1,1169.4 1425.4,1168.0C1427.7,1166.6 1430.3,1165.8 1433.2,1165.1C1436.1,1164.3 1439.8,1163.4 1442.7,1163.2C1445.6,1163.1 1448.5,1163.4 1450.5,1164.2C1452.6,1165.0 1453.8,1166.9 1454.9,1168.0C1456.0,1169.1 1457.2,1170.1 1457.0,1171.0Z M1403.7,1213.1 L1409.8,1213.2 L1407.2,1218.3Z" fill="#231f20"/>
</g>
<!-- grains -->
<g>
<g transform="translate(721.1,626.0) rotate(-10)"><path d="M-7.6,-7 C-9.5,-8.5 -8.6,-11.8 -5.6,-11.8 H5.6 C8.6,-11.8 9.5,-8.5 7.6,-7 V10 Q7.6,11.8 5.8,11.8 H-5.8 Q-7.6,11.8 -7.6,10 Z" fill="#c97f45"/><path d="M-6.4,-6.4 C-8,-7.8 -7.4,-10.6 -5,-10.6 H5 C7.4,-10.6 8,-7.8 6.4,-6.4 V9.6 Q6.4,10.6 5.2,10.6 H-5.2 Q-6.4,10.6 -6.4,9.6 Z" fill="#e0a065"/><g fill="#b86f3a"><circle cx="-3" cy="-6" r="0.6"/><circle cx="2" cy="-3" r="0.6"/><circle cx="-1" cy="1" r="0.6"/><circle cx="3.5" cy="4" r="0.6"/><circle cx="-3.5" cy="6" r="0.6"/><circle cx="1" cy="8" r="0.6"/><circle cx="4" cy="-7" r="0.5"/></g></g>
<g transform="translate(752.2,625.1) rotate(24)"><path d="M-7.8,-4 C-10,-5.5 -9,-9.4 -5.6,-9.4 H5.6 C9,-9.4 10,-5.5 7.8,-4 V7.6 Q7.8,9.4 6,9.4 H-6 Q-7.8,9.4 -7.8,7.6 Z" fill="#f09236"/><path d="M-6,-3.4 C-7.8,-4.6 -7.2,-7.6 -4.6,-7.6 H4.6 C7.2,-7.6 7.8,-4.6 6,-3.4 V7 Q6,7.7 5.2,7.7 H-5.2 Q-6,7.7 -6,7 Z" fill="#fbe0b2"/></g>
<g fill="#f4f4ee"><ellipse cx="776.7" cy="625.5" rx="2.1" ry="0.9" transform="rotate(60 776.7 625.5)"/><ellipse cx="780.4" cy="624.4" rx="2.1" ry="0.9" transform="rotate(100 780.4 624.4)"/><ellipse cx="783.6" cy="627.1" rx="2.1" ry="0.9" transform="rotate(120 783.6 627.1)"/><ellipse cx="774.0" cy="629.7" rx="2.1" ry="0.9" transform="rotate(20 774.0 629.7)"/><ellipse cx="777.7" cy="630.3" rx="2.1" ry="0.9" transform="rotate(80 777.7 630.3)"/><ellipse cx="782.0" cy="631.3" rx="2.1" ry="0.9" transform="rotate(150 782.0 631.3)"/><ellipse cx="784.7" cy="631.3" rx="2.1" ry="0.9" transform="rotate(60 784.7 631.3)"/><ellipse cx="775.6" cy="634.0" rx="2.1" ry="0.9" transform="rotate(160 775.6 634.0)"/><ellipse cx="779.9" cy="634.5" rx="2.1" ry="0.9" transform="rotate(10 779.9 634.5)"/><ellipse cx="783.1" cy="635.1" rx="2.1" ry="0.9" transform="rotate(140 783.1 635.1)"/><ellipse cx="778.8" cy="627.6" rx="2.1" ry="0.9" transform="rotate(45 778.8 627.6)"/></g>
<path d="M714.3,661.9 H734.0 C733.8,664.4 732.4,666.5 730.3,666.5 H718.0 C715.9,666.5 714.5,664.4 714.3,661.9 Z" fill="#2a8fd0"/>
<path d="M716.1,661.9C713.2,661.6 716.8,660.6 718.0,660.1C719.2,659.6 720.8,659.6 722.3,659.4C723.7,659.2 724.6,660.1 725.3,659.1C725.9,658.0 725.2,655.9 725.5,654.3C725.8,652.7 726.2,651.1 726.7,651.1C727.3,651.1 727.9,652.7 728.1,654.3C728.4,655.9 727.6,658.0 728.1,659.1C728.7,660.2 729.9,659.2 730.8,659.8C731.7,660.4 735.3,661.5 732.4,661.9C729.5,662.4 719.0,662.3 716.1,661.9Z" fill="#e9bf88"/>
<path d="M728.5,654.1 L739.5,656.6" stroke="#d8d8d8" stroke-width="1" stroke-linecap="round" fill="none"/>
<g transform="translate(766.0,653.4) rotate(28)"><ellipse cx="0" cy="-2" rx="4.6" ry="10" fill="#f6c832"/><path d="M-4.6,-2 C-6.5,3 -4,9.5 0,11 C4,9.5 6.5,3 4.6,-2 C4,3 2,6 0,7 C-2,6 -4,3 -4.6,-2 Z" fill="#5baa3c"/><path d="M-4.6,0 C-7,4 -4,10 0,11 C-3,8 -4.6,4 -4.6,0 Z" fill="#3f8f2e"/><g stroke="#e0a81c" stroke-width="0.5" fill="none"><path d="M-2,-10 V4 M0.5,-11 V5 M2.8,-9 V3"/><path d="M-4,-6 H4 M-4.4,-3 H4.4 M-4,0 H4"/></g></g>
<path d="M682.1,683.1 C682.6,675.6 690.3,672.2 696.1,672.2 C702.0,672.2 709.5,675.6 710.0,683.1 L710.0,684.8 Q710.0,685.8 708.9,685.8 L683.1,685.8 Q682.1,685.8 682.1,684.8 Z" fill="#f0922b"/>
<path d="M691.3,675.1 l1,3.6 M697.2,674.3 l1,3.8 M703.1,675.6 l1,3.6" stroke="#c06a1a" stroke-width="0.9" stroke-linecap="round" fill="none"/>
<path d="M752.1,671.1C754.3,671.3 753.6,671.7 756.4,674.0C759.2,676.3 760.2,677.0 762.8,679.9C765.4,682.7 765.7,682.4 766.0,684.7C766.3,686.9 766.7,686.6 763.9,688.4C761.0,690.2 759.9,690.6 755.3,691.6C750.8,692.6 750.1,693.0 746.8,692.1C743.5,691.3 743.6,691.4 743.1,688.4C742.5,685.4 743.2,684.9 744.7,680.9C746.1,677.0 746.4,676.1 748.4,673.5C750.4,670.8 750.0,671.0 752.1,671.1Z" fill="#cfcfcf"/>
<path d="M752.1,671.1C754.0,671.1 753.2,671.4 755.9,673.7C758.5,676.0 759.5,676.9 761.9,679.7C764.4,682.4 764.8,682.2 764.9,684.1C765.0,686.0 765.1,685.5 762.3,686.8C759.4,688.1 758.2,688.2 754.3,688.9C750.3,689.6 749.9,690.0 747.3,689.5C744.8,688.9 745.1,689.1 744.7,686.8C744.2,684.5 744.7,684.4 745.7,680.9C746.8,677.4 747.0,676.3 748.7,673.7C750.4,671.1 750.2,671.1 752.1,671.1Z" fill="#efefef"/>
<path d="M749.5,683.6 L756.9,681.1 L759.1,688.4 L751.6,690.7Z" fill="#2b2b2b"/>
<ellipse cx="792.7" cy="667.6" rx="2.3" ry="1.2" fill="#e0a043" transform="rotate(-13 792.7 667.6)"/><ellipse cx="792.7" cy="667.6" rx="2.3" ry="1.2" fill="#c9842a" transform="rotate(57 792.7 667.6)"/><ellipse cx="795.2" cy="668.7" rx="2.3" ry="1.6" fill="#e0a043" transform="rotate(-9 795.2 668.7)"/><ellipse cx="795.2" cy="668.7" rx="2.3" ry="1.6" fill="#c9842a" transform="rotate(61 795.2 668.7)"/><ellipse cx="797.6" cy="670.0" rx="2.3" ry="1.9" fill="#e0a043" transform="rotate(-5 797.6 670.0)"/><ellipse cx="797.6" cy="670.0" rx="2.3" ry="1.9" fill="#c9842a" transform="rotate(65 797.6 670.0)"/><ellipse cx="799.9" cy="671.5" rx="2.3" ry="2.1" fill="#e0a043" transform="rotate(-1 799.9 671.5)"/><ellipse cx="799.9" cy="671.5" rx="2.3" ry="2.1" fill="#c9842a" transform="rotate(69 799.9 671.5)"/><ellipse cx="802.0" cy="673.0" rx="2.3" ry="2.2" fill="#e0a043" transform="rotate(3 802.0 673.0)"/><ellipse cx="802.0" cy="673.0" rx="2.3" ry="2.2" fill="#c9842a" transform="rotate(73 802.0 673.0)"/><ellipse cx="804.1" cy="674.7" rx="2.3" ry="2.1" fill="#e0a043" transform="rotate(8 804.1 674.7)"/><ellipse cx="804.1" cy="674.7" rx="2.3" ry="2.1" fill="#c9842a" transform="rotate(78 804.1 674.7)"/><ellipse cx="805.9" cy="676.6" rx="2.3" ry="1.9" fill="#e0a043" transform="rotate(12 805.9 676.6)"/><ellipse cx="805.9" cy="676.6" rx="2.3" ry="1.9" fill="#c9842a" transform="rotate(82 805.9 676.6)"/><ellipse cx="807.7" cy="678.6" rx="2.3" ry="1.5" fill="#e0a043" transform="rotate(16 807.7 678.6)"/><ellipse cx="807.7" cy="678.6" rx="2.3" ry="1.5" fill="#c9842a" transform="rotate(86 807.7 678.6)"/><ellipse cx="809.3" cy="680.8" rx="2.3" ry="1.2" fill="#e0a043" transform="rotate(20 809.3 680.8)"/><ellipse cx="809.3" cy="680.8" rx="2.3" ry="1.2" fill="#c9842a" transform="rotate(90 809.3 680.8)"/><ellipse cx="810.8" cy="683.1" rx="2.3" ry="1.2" fill="#e0a043" transform="rotate(24 810.8 683.1)"/><ellipse cx="810.8" cy="683.1" rx="2.3" ry="1.2" fill="#c9842a" transform="rotate(94 810.8 683.1)"/><ellipse cx="785.7" cy="670.3" rx="2.3" ry="0.9" fill="#e0a043" transform="rotate(-24 785.7 670.3)"/><ellipse cx="785.7" cy="670.3" rx="2.3" ry="0.9" fill="#c9842a" transform="rotate(46 785.7 670.3)"/><ellipse cx="788.2" cy="670.8" rx="2.3" ry="1.2" fill="#e0a043" transform="rotate(-20 788.2 670.8)"/><ellipse cx="788.2" cy="670.8" rx="2.3" ry="1.2" fill="#c9842a" transform="rotate(50 788.2 670.8)"/><ellipse cx="790.7" cy="671.6" rx="2.3" ry="1.5" fill="#e0a043" transform="rotate(-16 790.7 671.6)"/><ellipse cx="790.7" cy="671.6" rx="2.3" ry="1.5" fill="#c9842a" transform="rotate(54 790.7 671.6)"/><ellipse cx="793.1" cy="672.5" rx="2.3" ry="1.6" fill="#e0a043" transform="rotate(-12 793.1 672.5)"/><ellipse cx="793.1" cy="672.5" rx="2.3" ry="1.6" fill="#c9842a" transform="rotate(58 793.1 672.5)"/><ellipse cx="795.6" cy="673.6" rx="2.3" ry="1.7" fill="#e0a043" transform="rotate(-9 795.6 673.6)"/><ellipse cx="795.6" cy="673.6" rx="2.3" ry="1.7" fill="#c9842a" transform="rotate(61 795.6 673.6)"/><ellipse cx="798.0" cy="674.9" rx="2.3" ry="1.6" fill="#e0a043" transform="rotate(-5 798.0 674.9)"/><ellipse cx="798.0" cy="674.9" rx="2.3" ry="1.6" fill="#c9842a" transform="rotate(65 798.0 674.9)"/><ellipse cx="800.4" cy="676.4" rx="2.3" ry="1.4" fill="#e0a043" transform="rotate(-2 800.4 676.4)"/><ellipse cx="800.4" cy="676.4" rx="2.3" ry="1.4" fill="#c9842a" transform="rotate(68 800.4 676.4)"/><ellipse cx="802.8" cy="678.1" rx="2.3" ry="1.2" fill="#e0a043" transform="rotate(1 802.8 678.1)"/><ellipse cx="802.8" cy="678.1" rx="2.3" ry="1.2" fill="#c9842a" transform="rotate(71 802.8 678.1)"/><ellipse cx="805.2" cy="680.0" rx="2.3" ry="0.9" fill="#e0a043" transform="rotate(4 805.2 680.0)"/><ellipse cx="805.2" cy="680.0" rx="2.3" ry="0.9" fill="#c9842a" transform="rotate(74 805.2 680.0)"/><ellipse cx="807.6" cy="682.0" rx="2.3" ry="0.9" fill="#e0a043" transform="rotate(7 807.6 682.0)"/><ellipse cx="807.6" cy="682.0" rx="2.3" ry="0.9" fill="#c9842a" transform="rotate(77 807.6 682.0)"/><path d="M785.7,662.6 L792.7,667.6 M782.5,668.7 L787.3,670.5 M788.4,663.9 L794.8,668.7" stroke="#d89a3c" stroke-width="0.7" stroke-linecap="round" fill="none"/></g>
<!-- fruits -->
<g>
<g filter="url(#sh)"><path d="M657.4,773.0C657.4,771.9 658.0,772.0 660.0,773.4C662.0,774.7 663.6,777.9 667.2,779.6C670.8,781.3 673.7,782.1 678.0,782.0C682.3,781.9 684.7,781.4 688.8,779.0C692.9,776.6 695.9,772.5 698.4,770.0C700.9,767.5 700.7,766.4 701.4,766.4C702.1,766.4 703.1,767.4 702.0,770.0C700.9,772.6 699.1,776.5 696.0,779.6C692.9,782.7 690.2,784.1 686.4,785.6C682.6,787.1 680.6,787.2 676.8,787.0C673.0,786.9 670.6,786.6 667.2,785.0C663.8,783.4 662.0,781.4 660.0,779.0C658.0,776.6 657.4,774.1 657.4,773.0Z" fill="#f6e46c"/><path d="M656.4,750.6C657.0,749.4 658.4,750.0 659.4,751.0C660.4,752.0 659.6,753.2 661.2,755.6C662.8,758.0 664.1,760.5 667.2,762.8C670.3,765.1 672.7,766.4 676.8,767.0C680.9,767.6 683.8,767.0 687.6,765.8C691.4,764.6 693.7,762.4 696.0,761.0C698.3,759.6 697.9,758.8 699.0,758.6C700.1,758.4 700.8,759.0 701.4,759.8C702.0,760.6 702.6,760.5 701.8,762.8C700.9,765.1 699.8,768.3 697.2,771.2C694.6,774.1 692.6,775.5 688.8,777.2C685.0,778.9 682.1,779.6 678.0,779.6C673.9,779.6 672.0,779.1 668.4,777.2C664.8,775.3 662.6,773.1 660.0,770.0C657.4,766.9 656.2,764.2 655.4,761.6C654.7,759.0 656.0,759.0 656.2,756.8C656.4,754.6 655.8,751.7 656.4,750.6Z" fill="#dcc85c"/><path d="M656.2,758.6C656.2,757.6 656.6,756.4 658.8,758.0C661.0,759.6 663.4,764.0 667.2,766.4C671.0,768.8 673.7,769.5 678.0,770.0C682.3,770.5 684.7,770.2 688.8,768.8C692.9,767.4 695.9,764.4 698.4,762.8C700.9,761.2 700.8,761.0 701.5,761.0C702.2,761.0 702.6,761.2 701.8,762.8C700.9,764.4 699.8,766.9 697.2,768.8C694.6,770.7 692.6,771.4 688.8,772.4C685.0,773.4 682.3,774.0 678.0,773.6C673.7,773.2 671.0,772.8 667.2,770.6C663.4,768.4 661.0,765.2 658.8,762.8C656.6,760.4 656.2,759.6 656.2,758.6Z" fill="#d0ba56"/><path d="M656.2,750.6C656.9,749.7 658.6,750.0 659.6,750.8C660.7,751.6 661.0,752.6 660.2,753.4C659.5,754.3 658.0,754.7 656.9,753.9C655.8,753.2 655.4,751.4 656.2,750.6Z" fill="#c7aa58"/><path d="M698.4,758.2C698.9,757.7 700.2,758.1 701.0,759.0C701.9,759.8 702.0,760.8 701.5,761.4C701.0,761.9 700.0,762.0 699.1,761.1C698.3,760.3 697.9,758.8 698.4,758.2Z" fill="#c7aa58"/></g>
<g filter="url(#sh)"><path d="M736.8,758.0C740.3,757.4 740.4,756.6 744.0,756.6C747.6,756.6 748.9,756.0 752.4,758.0C755.9,760.0 757.0,761.3 759.0,765.2C761.0,769.1 761.2,770.0 761.0,774.8C760.9,779.6 760.7,781.4 758.4,785.6C756.1,789.8 755.1,790.6 751.2,792.8C747.3,795.0 746.1,795.1 741.6,795.2C737.1,795.3 735.9,795.4 732.0,793.4C728.1,791.4 727.3,790.9 724.8,786.8C722.3,782.7 721.6,781.0 721.2,776.0C720.8,771.0 721.2,769.1 723.0,765.2C724.8,761.3 725.8,760.9 729.0,759.2C732.2,757.5 733.3,758.6 736.8,758.0Z" fill="#ee4043"/><path d="M728.6,762.6C727.9,762.1 725.7,765.7 725.0,770.0C724.4,774.3 724.0,776.3 726.0,780.8C728.0,785.3 732.5,789.4 733.4,789.4C734.3,789.4 731.0,784.9 729.8,780.8C728.7,776.7 728.7,776.1 728.4,771.8C728.1,767.5 729.4,763.0 728.6,762.6Z" fill="#fff"/><path d="M737.4,759.2 Q736.2,753.8 733.2,750.6" stroke="#7a3b22" stroke-width="1.5" fill="none" stroke-linecap="round"/><path d="M720.0,753.4C720.6,752.3 723.2,751.7 726.0,751.4C728.8,751.1 729.8,751.3 732.0,752.2C734.2,753.2 736.2,754.5 735.6,755.6C735.0,756.7 732.4,756.9 729.6,757.0C726.8,757.2 725.8,757.0 723.6,756.2C721.4,755.4 719.4,754.6 720.0,753.4Z" fill="#00734a"/><path d="M736.8,755.4C735.8,754.5 737.5,752.2 739.2,750.2C740.9,748.2 742.0,747.8 744.0,746.6C746.0,745.4 747.1,744.5 747.8,745.2C748.5,745.9 748.0,747.6 747.0,749.6C746.0,751.6 745.8,752.5 743.4,753.8C741.0,755.1 737.8,756.2 736.8,755.4Z" fill="#00734a"/></g>
<g filter="url(#sh)"><circle cx="769.2" cy="739.4" r="13.8" fill="#ff9a1f"/><path d="M762.0,716.6C763.0,716.2 765.6,717.8 768.0,719.6C770.4,721.4 771.0,722.7 772.2,724.4C773.4,726.1 774.0,726.8 773.0,727.0C772.1,727.3 770.2,726.9 768.0,725.6C765.8,724.3 765.2,723.5 763.8,721.4C762.4,719.3 761.0,717.0 762.0,716.6Z" fill="#00734a"/><path d="M773.4,727.0C773.4,725.9 776.1,725.2 778.8,724.4C781.5,723.6 782.4,723.7 784.8,723.8C787.2,723.9 789.0,723.7 789.0,724.6C789.0,725.6 787.2,726.9 784.8,728.0C782.4,729.1 781.5,729.7 778.8,729.4C776.1,729.2 773.4,728.2 773.4,727.0Z" fill="#00734a"/></g>
<g filter="url(#sh)"><path d="M801.6,757.8C803.4,757.8 804.2,758.4 806.4,760.4C808.6,762.4 808.5,763.3 811.2,766.4C813.9,769.5 815.6,770.2 817.8,773.6C820.0,777.0 820.7,777.2 820.8,780.8C820.9,784.4 820.6,786.1 818.4,789.2C816.2,792.3 814.6,792.7 811.2,794.0C807.8,795.3 807.4,795.4 804.0,794.6C800.6,793.8 799.4,793.1 796.8,790.4C794.2,787.7 793.7,786.8 793.0,783.2C792.2,779.6 792.7,778.7 793.4,774.8C794.2,770.9 795.0,769.8 796.2,766.4C797.4,763.0 797.3,762.4 798.6,760.4C799.9,758.4 799.8,757.8 801.6,757.8Z" fill="#3fae52"/><path d="M793.8,745.6 Q798.0,750.8 800.2,758.2" stroke="#7a4a22" stroke-width="1.5" fill="none" stroke-linecap="round"/><path d="M796.2,773.6 C798.0,784.4 806.4,789.2 814.8,784.6" stroke="#0d7a4a" stroke-width="1.2" fill="none" stroke-linecap="round"/></g>
<g filter="url(#sh)"><path d="M841.2,758.0C843.7,756.5 845.7,756.2 849.6,756.2C853.5,756.2 854.8,756.5 858.0,758.0C861.2,759.5 862.1,760.0 863.4,762.8C864.7,765.6 864.7,766.4 863.4,770.0C862.1,773.6 860.9,775.2 858.0,778.4C855.1,781.6 853.5,782.5 850.8,783.8C848.1,785.1 848.4,785.1 846.6,784.2C844.8,783.2 844.5,782.6 843.0,779.6C841.5,776.6 840.9,775.1 840.0,771.2C839.1,767.3 838.8,765.9 839.0,762.8C839.3,759.7 838.7,759.5 841.2,758.0Z" fill="#ee3e2d"/><path d="M852.6,755.0 L859.8,753.2 L858.6,759.2 L866.4,764.6 L858.0,763.4 L855.6,766.4 L852.0,760.4 L844.8,762.8 L847.2,758.0 L840.6,755.6 L848.4,755.4 L846.6,750.8Z" fill="#00854a"/><path d="M852.6,748.6 L852.8,755.6" stroke="#0a6a3a" stroke-width="0.8" fill="none"/><g fill="#a82418"><circle cx="842.4" cy="764.6" r="0.55"/><circle cx="846.0" cy="768.8" r="0.55"/><circle cx="844.2" cy="774.8" r="0.55"/><circle cx="849.0" cy="772.4" r="0.55"/><circle cx="853.2" cy="769.4" r="0.55"/><circle cx="851.4" cy="775.4" r="0.55"/><circle cx="846.6" cy="779.6" r="0.55"/><circle cx="856.2" cy="774.8" r="0.55"/><circle cx="858.6" cy="767.6" r="0.55"/><circle cx="849.6" cy="765.8" r="0.55"/></g></g>
<g filter="url(#sh)"><path d="M625.8,807.2 L631.8,795.8 L634.8,797.6 L649.2,789.2 L645.6,799.4 L651.8,797.4 L642.0,804.8 L639.6,809.6Z" fill="#8cc63f"/><path d="M613.2,788.0C613.0,790.2 611.3,791.9 612.6,796.4C613.9,800.9 615.0,802.9 618.0,804.8C621.0,806.7 621.6,805.5 624.0,803.6C626.4,801.7 627.2,800.3 627.0,797.6C626.8,794.9 625.6,793.7 623.4,793.4C621.2,793.1 619.7,793.7 618.6,796.4C617.5,799.1 618.1,800.1 619.2,803.6C620.3,807.1 621.8,808.0 622.8,809.6" stroke="#00734a" stroke-width="1" fill="none"/><circle cx="619.2" cy="815.6" r="4.5" fill="#a3206e"/><circle cx="617.5" cy="814.3" r="1.1" fill="#f6e6f0"/><circle cx="627.6" cy="812.0" r="4.5" fill="#a3206e"/><circle cx="625.9" cy="810.7" r="1.1" fill="#f6e6f0"/><circle cx="636.0" cy="809.6" r="4.5" fill="#a3206e"/><circle cx="634.3" cy="808.3" r="1.1" fill="#f6e6f0"/><circle cx="643.8" cy="815.0" r="4.5" fill="#a3206e"/><circle cx="642.1" cy="813.7" r="1.1" fill="#f6e6f0"/><circle cx="618.0" cy="825.8" r="4.5" fill="#a3206e"/><circle cx="616.3" cy="824.5" r="1.1" fill="#f6e6f0"/><circle cx="626.4" cy="822.2" r="4.5" fill="#a3206e"/><circle cx="624.7" cy="820.9" r="1.1" fill="#f6e6f0"/><circle cx="634.8" cy="818.6" r="4.5" fill="#a3206e"/><circle cx="633.1" cy="817.3" r="1.1" fill="#f6e6f0"/><circle cx="643.2" cy="823.4" r="4.5" fill="#a3206e"/><circle cx="641.5" cy="822.1" r="1.1" fill="#f6e6f0"/><circle cx="625.2" cy="831.8" r="4.5" fill="#a3206e"/><circle cx="623.5" cy="830.5" r="1.1" fill="#f6e6f0"/><circle cx="633.0" cy="827.6" r="4.5" fill="#a3206e"/><circle cx="631.3" cy="826.3" r="1.1" fill="#f6e6f0"/><circle cx="640.8" cy="832.4" r="4.5" fill="#a3206e"/><circle cx="639.1" cy="831.1" r="1.1" fill="#f6e6f0"/><circle cx="632.4" cy="836.6" r="4.5" fill="#a3206e"/><circle cx="630.7" cy="835.3" r="1.1" fill="#f6e6f0"/><circle cx="639.6" cy="842.0" r="4.5" fill="#a3206e"/><circle cx="637.9" cy="840.7" r="1.1" fill="#f6e6f0"/></g>
<g filter="url(#sh)"><g transform="translate(730.2,806.6) rotate(11.3)"><path d="M-42.8,0 A42.8,42.8 0 0 0 42.8,0 Z" fill="#069247"/><path d="M-40,0 A40,40 0 0 0 40,0 Z" fill="#efe88e"/><path d="M-37.5,0 A37.5,37.5 0 0 0 37.5,0 Z" fill="#ee4043"/><ellipse cx="-29" cy="5" rx="1.3" ry="3.4" fill="#2f2f3a" transform="rotate(20 -29 5)"/><ellipse cx="-18" cy="10" rx="1.3" ry="3.4" fill="#2f2f3a" transform="rotate(-60 -18 10)"/><ellipse cx="-12" cy="21" rx="1.3" ry="3.4" fill="#2f2f3a" transform="rotate(20 -12 21)"/><ellipse cx="3" cy="12" rx="1.3" ry="3.4" fill="#2f2f3a" transform="rotate(-50 3 12)"/><ellipse cx="-9" cy="31" rx="1.3" ry="3.4" fill="#2f2f3a" transform="rotate(10 -9 31)"/><ellipse cx="13" cy="8" rx="1.3" ry="3.4" fill="#2f2f3a" transform="rotate(15 13 8)"/><ellipse cx="1" cy="29" rx="1.3" ry="3.4" fill="#2f2f3a" transform="rotate(-60 1 29)"/><ellipse cx="16" cy="25" rx="1.3" ry="3.4" fill="#2f2f3a" transform="rotate(5 16 25)"/><ellipse cx="25" cy="7" rx="1.3" ry="3.4" fill="#2f2f3a" transform="rotate(0 25 7)"/></g></g>
<g filter="url(#sh)"><path d="M834.2,793.4 Q819.6,804.8 811.8,819.0 M834.2,793.4 Q830.4,810.8 835.4,827.6" stroke="#5a3a1c" stroke-width="1.5" fill="none" stroke-linecap="round"/><circle cx="808.8" cy="827.8" r="11.4" fill="#ee4043"/><path d="M803.3,819.5 q-6,5.5 -3,13.5 q-0.2,-7.5 3,-13.5z" fill="#fff"/><circle cx="837.0" cy="837.2" r="11.6" fill="#ee4043"/><path d="M831.5,828.9 q-6,5.5 -3,13.5 q-0.2,-7.5 3,-13.5z" fill="#fff"/></g>
<g filter="url(#sh)" fill="#00734a"><circle cx="868.2" cy="800.6" r="2.4"/><circle cx="877.8" cy="800.2" r="3.2"/><circle cx="862.2" cy="808.2" r="3.2"/><circle cx="872.4" cy="808.2" r="3.6"/><circle cx="882.0" cy="808.2" r="3.6"/><circle cx="864.6" cy="815.8" r="3.2"/><circle cx="875.4" cy="817.4" r="4.6"/></g>
</g>
<!-- vegetables -->
<g>
<clipPath id="egc"><path d="M562.9,943.4C556.9,943.4 551.9,943.9 544.0,947.4C536.1,950.9 530.0,955.0 523.3,960.9C516.6,966.8 513.8,971.0 510.7,977.1C507.6,983.2 506.9,986.4 507.6,991.5C508.4,996.6 510.4,1000.0 514.3,1002.8C518.2,1005.6 521.5,1006.7 526.9,1005.5C532.3,1004.4 535.7,1001.6 541.3,996.9C546.9,992.2 549.6,988.2 554.8,982.0C560.0,975.7 563.4,970.9 567.4,965.8C571.4,960.6 573.6,959.7 575.0,956.0C576.3,952.4 576.7,949.9 574.2,947.4C571.8,944.9 568.9,943.4 562.9,943.4Z"/></clipPath><path d="M562.9,943.4C556.9,943.4 551.9,943.9 544.0,947.4C536.1,950.9 530.0,955.0 523.3,960.9C516.6,966.8 513.8,971.0 510.7,977.1C507.6,983.2 506.9,986.4 507.6,991.5C508.4,996.6 510.4,1000.0 514.3,1002.8C518.2,1005.6 521.5,1006.7 526.9,1005.5C532.3,1004.4 535.7,1001.6 541.3,996.9C546.9,992.2 549.6,988.2 554.8,982.0C560.0,975.7 563.4,970.9 567.4,965.8C571.4,960.6 573.6,959.7 575.0,956.0C576.3,952.4 576.7,949.9 574.2,947.4C571.8,944.9 568.9,943.4 562.9,943.4Z" fill="#a63d87"/><path clip-path="url(#egc)" d="M576.4,954.6C573.2,953.9 567.8,956.4 562.0,960.0C556.2,963.6 552.3,966.8 547.6,972.6C542.9,978.4 542.9,983.6 538.6,988.8C534.3,994.0 531.4,996.4 526.0,998.7C520.6,1001.0 511.6,998.2 511.6,1000.5C511.6,1002.8 518.8,1009.9 526.0,1010.4C533.2,1010.9 539.7,1009.0 547.6,1003.2C555.5,997.4 559.5,989.5 565.6,981.6C571.7,973.7 576.0,969.0 578.2,963.6C580.4,958.2 579.6,955.3 576.4,954.6Z" fill="#8c2f72"/><path d="M561.1,943.4 L569.2,939.8 L571.9,942.0 L576.0,945.6 L578.2,951.0 L576.0,956.4 L573.2,960.9 L571.4,954.6 L567.8,959.6 L567.4,951.9 L560.6,949.2 L565.6,947.0Z" fill="#00703c"/>
<path d="M602.5,970.8 L614.2,968.1 L622.3,978.0 L623.2,963.6 L634.0,960.9 L636.7,994.2 L625.9,1000.0 L616.0,988.8Z" fill="#7fc241"/><path d="M623.2,963.6 L634.0,960.9 L636.7,994.2 L628.6,998.2 L622.3,978.0Z" fill="#92cc52"/><circle cx="594.4" cy="963.6" r="9.9" fill="#00703c"/><circle cx="607.0" cy="954.6" r="10.8" fill="#00703c"/><circle cx="621.4" cy="949.2" r="10.4" fill="#00703c"/><circle cx="634.0" cy="947.8" r="8.6" fill="#00703c"/><circle cx="616.0" cy="960.0" r="9.9" fill="#00703c"/><circle cx="601.6" cy="967.2" r="6.8" fill="#00703c"/><circle cx="628.6" cy="954.6" r="8.1" fill="#00703c"/>
<clipPath id="ltc"><path d="M705.1,888.0C711.3,888.0 709.9,887.6 715.0,889.8C720.1,892.0 719.2,891.1 722.2,895.2C725.2,899.2 722.7,898.4 724.9,903.3C727.1,908.2 727.8,906.3 729.4,911.4C731.0,916.5 728.4,916.6 730.3,920.4C732.2,924.2 734.9,919.1 735.7,924.0C736.5,928.9 736.5,929.8 733.0,936.6C729.5,943.3 730.5,942.2 724.0,946.5C717.5,950.8 719.0,949.6 711.4,951.0C703.8,952.3 706.6,952.3 698.8,951.0C691.0,949.6 692.0,950.8 685.3,946.5C678.5,942.2 679.7,943.3 676.3,936.6C672.9,929.8 673.0,928.9 674.0,924.0C674.9,919.1 677.3,924.2 679.4,920.4C681.4,916.6 679.3,916.5 680.8,911.4C682.3,906.3 682.5,908.2 684.4,903.3C686.3,898.4 684.1,899.2 687.1,895.2C690.1,891.1 688.9,892.0 694.3,889.8C699.7,887.6 698.9,888.0 705.1,888.0Z"/></clipPath><path d="M705.1,888.0C711.3,888.0 709.9,887.6 715.0,889.8C720.1,892.0 719.2,891.1 722.2,895.2C725.2,899.2 722.7,898.4 724.9,903.3C727.1,908.2 727.8,906.3 729.4,911.4C731.0,916.5 728.4,916.6 730.3,920.4C732.2,924.2 734.9,919.1 735.7,924.0C736.5,928.9 736.5,929.8 733.0,936.6C729.5,943.3 730.5,942.2 724.0,946.5C717.5,950.8 719.0,949.6 711.4,951.0C703.8,952.3 706.6,952.3 698.8,951.0C691.0,949.6 692.0,950.8 685.3,946.5C678.5,942.2 679.7,943.3 676.3,936.6C672.9,929.8 673.0,928.9 674.0,924.0C674.9,919.1 677.3,924.2 679.4,920.4C681.4,916.6 679.3,916.5 680.8,911.4C682.3,906.3 682.5,908.2 684.4,903.3C686.3,898.4 684.1,899.2 687.1,895.2C690.1,891.1 688.9,892.0 694.3,889.8C699.7,887.6 698.9,888.0 705.1,888.0Z" fill="#b7da5e"/><circle cx="695.2" cy="894.8" r="5.4" fill="#b7da5e"/><circle cx="688.0" cy="900.2" r="5.0" fill="#b7da5e"/><circle cx="684.8" cy="907.8" r="4.7" fill="#b7da5e"/><circle cx="682.2" cy="915.4" r="4.7" fill="#b7da5e"/><circle cx="715.0" cy="894.8" r="5.4" fill="#a6cf4b"/><circle cx="722.2" cy="900.2" r="5.0" fill="#a6cf4b"/><circle cx="725.8" cy="907.8" r="4.7" fill="#a6cf4b"/><circle cx="728.5" cy="915.4" r="4.7" fill="#a6cf4b"/><circle cx="705.1" cy="893.4" r="5.0" fill="#b7da5e"/><rect clip-path="url(#ltc)" x="705.1" y="886.2" width="40" height="70" fill="#a6cf4b"/><path d="M704.7,904.2 L704.7,949.2 M704.7,924.0 L695.2,915.0 M704.7,924.0 L715.0,915.0 M704.7,938.4 L691.6,927.6 M704.7,938.4 L718.6,927.6" stroke="#cfe78e" stroke-width="1" fill="none" stroke-linecap="round"/>
<path d="M688.0,978.0C694.7,978.0 695.1,974.8 700.6,975.3C706.1,975.8 705.7,976.2 708.7,979.8C711.7,983.4 711.8,983.8 711.8,988.8C711.8,993.8 711.9,994.1 708.7,998.7C705.5,1003.3 705.2,1003.3 699.7,1005.9C694.2,1008.5 694.2,1008.6 688.0,1008.6C681.8,1008.6 681.7,1008.5 676.3,1005.9C670.9,1003.3 670.9,1003.3 667.8,998.7C664.8,994.1 665.0,993.8 665.0,988.8C665.0,983.8 665.1,983.4 667.8,979.8C670.6,976.2 670.0,975.8 675.4,975.3C680.8,974.8 681.3,978.0 688.0,978.0Z" fill="#e8392b"/><path d="M688.0,985.2C690.9,985.2 690.3,982.3 693.4,981.2C696.5,980.2 697.1,979.9 699.7,981.2C702.3,982.5 702.8,982.6 703.3,986.1C703.8,989.6 703.7,990.4 701.5,994.2C699.3,998.0 698.8,997.9 695.2,1000.5C691.6,1003.1 691.8,1004.1 688.0,1004.1C684.2,1004.1 684.4,1003.1 680.8,1000.5C677.2,997.9 676.7,998.0 674.5,994.2C672.3,990.4 672.2,989.6 672.7,986.1C673.2,982.6 673.7,982.5 676.3,981.2C678.9,979.9 679.5,980.2 682.6,981.2C685.7,982.3 685.1,985.2 688.0,985.2Z" fill="#f0645a"/><path d="M688.0,985.2 L688.0,1004.1 L680.8,1000.5 L674.5,994.2 L672.7,986.1 L676.3,981.2 L682.6,981.2Z" fill="#e8392b" opacity="0.35"/><g fill="#f6d23a"><ellipse cx="670.0" cy="983.4" rx="0.9" ry="1.7" transform="rotate(-60 670.0 983.4)"/><ellipse cx="677.2" cy="978.5" rx="0.9" ry="1.7" transform="rotate(-30 677.2 978.5)"/><ellipse cx="698.8" cy="978.5" rx="0.9" ry="1.7" transform="rotate(30 698.8 978.5)"/><ellipse cx="706.0" cy="983.4" rx="0.9" ry="1.7" transform="rotate(60 706.0 983.4)"/><ellipse cx="707.8" cy="990.6" rx="0.9" ry="1.7" transform="rotate(90 707.8 990.6)"/><ellipse cx="705.1" cy="996.9" rx="0.9" ry="1.7" transform="rotate(120 705.1 996.9)"/><ellipse cx="699.7" cy="1002.8" rx="0.9" ry="1.7" transform="rotate(150 699.7 1002.8)"/><ellipse cx="693.4" cy="1005.0" rx="0.9" ry="1.7" transform="rotate(170 693.4 1005.0)"/><ellipse cx="682.6" cy="1005.0" rx="0.9" ry="1.7" transform="rotate(10 682.6 1005.0)"/><ellipse cx="676.3" cy="1002.8" rx="0.9" ry="1.7" transform="rotate(30 676.3 1002.8)"/><ellipse cx="670.9" cy="996.9" rx="0.9" ry="1.7" transform="rotate(60 670.9 996.9)"/><ellipse cx="668.6" cy="990.6" rx="0.9" ry="1.7" transform="rotate(90 668.6 990.6)"/></g><path d="M688.0,968.1 L689.8,973.5 L695.2,970.8 L701.5,971.7 L693.4,976.2 L688.0,978.0 L682.6,976.2 L674.5,971.7 L680.8,970.8 L686.2,973.5Z" fill="#6fbf3f"/>
<rect x="763.6" y="884.4" width="14.5" height="38" rx="7.2" fill="#1f8a2e"/><clipPath id="cuc"><rect x="763.6" y="884.4" width="14.5" height="38" rx="7.2"/></clipPath><rect clip-path="url(#cuc)" x="771.1" y="884.0" width="8" height="40" fill="#2f9e3a"/><ellipse cx="770.9" cy="892.7" rx="6.2" ry="7" fill="#bfe592"/><ellipse cx="770.9" cy="892.7" rx="3.6" ry="4.4" fill="#e9f7d2"/>
<path d="M819.9,899.7C817.2,896.2 816.1,896.5 817.2,891.6C818.3,886.7 818.9,887.0 823.5,883.5C828.1,880.0 828.2,879.4 832.5,879.9C836.8,880.4 836.5,881.2 837.9,885.3C839.2,889.3 838.9,889.1 837.0,893.4C835.1,897.7 834.8,896.7 831.6,899.7C828.4,902.7 829.7,903.3 826.2,903.3C822.7,903.3 822.6,903.2 819.9,899.7Z" fill="#8dc63f"/><path d="M819.9,899.7 L828.0,891.6 L835.2,880.8 L837.9,885.3 L837.0,893.4 L831.6,899.7 L826.2,903.3Z" fill="#6aa836"/><path d="M814.5,899.7C817.0,898.3 818.7,898.1 820.8,898.8C822.9,899.5 824.4,900.8 824.8,903.3C825.1,905.8 824.8,907.3 822.6,911.4C820.4,915.5 817.6,919.5 813.6,924.0C809.6,928.5 806.8,931.1 802.8,933.9C798.8,936.7 795.4,938.6 793.8,938.0C792.2,937.5 793.3,935.1 794.7,931.2C796.1,927.3 798.3,923.6 801.0,918.6C803.7,913.6 805.5,909.8 808.2,906.0C810.9,902.2 812.0,901.1 814.5,899.7Z" fill="#f7941d"/><path d="M814.5,899.7 L818.6,902.4 L793.8,938.0 L794.7,931.2 L801.0,918.6 L808.2,906.0Z" fill="#e87e1a"/>
<path d="M879.3,887.1C880.9,883.9 881.5,884.4 885.6,884.4C889.6,884.4 889.0,884.4 892.8,887.1C896.6,889.8 895.8,889.3 898.2,893.4C900.6,897.4 900.9,896.5 900.9,900.6C900.9,904.6 901.2,904.7 898.2,906.9C895.2,909.1 895.0,909.1 891.0,907.8C886.9,906.4 887.9,906.2 884.7,902.4C881.5,898.6 881.8,899.8 880.2,895.2C878.6,890.6 877.7,890.3 879.3,887.1Z" fill="#8dc63f"/><path d="M879.3,887.1 L898.2,906.9 L891.0,907.8 L884.7,902.4 L880.2,895.2Z" fill="#6aa836"/><path d="M907.2,918.6 L919.4,929.8 L911.7,917.2Z" fill="#f4a6c4"/><circle cx="903.2" cy="911.8" r="10.4" fill="#e83e7a"/><path d="M895.9,904.4 A10.4,10.4 0 0 0 910.6,919.1 Z" fill="#d81b60"/>
<path d="M738.0,978.0 L772.2,985.2 L761.4,996.0 L755.1,1009.5 L747.0,1010.8 L739.8,1006.8 L742.5,994.2Z" fill="#f3e1b0"/><path d="M748.8,981.6 L756.0,983.4 L748.8,1010.4 L743.4,1009.5Z" fill="#e8cf97"/><circle cx="738.9" cy="970.8" r="9.0" fill="#f7f9e3"/><circle cx="750.6" cy="966.3" r="8.6" fill="#f7f9e3"/><circle cx="764.1" cy="971.7" r="9.0" fill="#f7f9e3"/><circle cx="773.1" cy="980.7" r="8.1" fill="#f7f9e3"/><circle cx="756.0" cy="976.2" r="9.0" fill="#f7f9e3"/><circle cx="743.4" cy="976.2" r="7.2" fill="#f7f9e3"/><circle cx="768.6" cy="985.2" r="5.4" fill="#f7f9e3"/>
<path d="M790.6,970.8 L795.6,968.6 L799.2,978.0 L794.7,980.2Z" fill="#7fc241"/><clipPath id="btc"><path d="M800.6,977.1C804.8,977.5 806.9,978.0 810.0,980.7C813.1,983.4 813.5,984.8 814.0,988.8C814.4,992.8 813.1,994.4 811.8,997.8C810.5,1001.2 809.0,1000.8 808.2,1003.2C807.4,1005.6 809.6,1008.3 808.6,1008.2C807.5,1008.2 807.1,1004.8 803.7,1002.8C800.3,1000.9 797.4,1002.0 793.8,1000.0C790.2,997.9 789.7,997.6 788.4,994.2C787.1,990.8 787.2,988.8 788.0,985.2C788.9,981.6 789.1,980.8 792.0,978.9C794.9,977.0 796.4,976.7 800.6,977.1Z"/></clipPath><path d="M800.6,977.1C804.8,977.5 806.9,978.0 810.0,980.7C813.1,983.4 813.5,984.8 814.0,988.8C814.4,992.8 813.1,994.4 811.8,997.8C810.5,1001.2 809.0,1000.8 808.2,1003.2C807.4,1005.6 809.6,1008.3 808.6,1008.2C807.5,1008.2 807.1,1004.8 803.7,1002.8C800.3,1000.9 797.4,1002.0 793.8,1000.0C790.2,997.9 789.7,997.6 788.4,994.2C787.1,990.8 787.2,988.8 788.0,985.2C788.9,981.6 789.1,980.8 792.0,978.9C794.9,977.0 796.4,976.7 800.6,977.1Z" fill="#c2185b"/><path clip-path="url(#btc)" d="M786.6,976.2 L797.4,976.2 L809.1,1009.5 L786.6,1009.5Z" fill="#9e0b4f"/>
<path d="M820.3,969.0 L870.0,937.0 L878.5,932.5 L886.0,931.8 L882.2,938.3 L874.6,944.2 L824.9,976.2 Z" fill="#a5cb4b"/><path d="M821.4,970.7 L849.4,952.8" stroke="#c3dd74" stroke-width="2.8" fill="none"/><circle cx="849.8" cy="952.0" r="2.5" fill="#b9d75e"/><circle cx="852.7" cy="956.6" r="2.2" fill="#98c043"/><circle cx="857.0" cy="953.5" r="2.5" fill="#b9d75e"/><circle cx="854.1" cy="949.0" r="2.2" fill="#98c043"/><circle cx="858.6" cy="946.3" r="2.5" fill="#b9d75e"/><circle cx="861.6" cy="950.9" r="2.2" fill="#98c043"/><circle cx="865.9" cy="947.8" r="2.5" fill="#b9d75e"/><circle cx="863.0" cy="943.3" r="2.2" fill="#98c043"/><circle cx="867.5" cy="940.6" r="2.5" fill="#b9d75e"/><circle cx="870.4" cy="945.2" r="2.2" fill="#98c043"/><circle cx="874.8" cy="942.1" r="2.5" fill="#b9d75e"/><circle cx="871.8" cy="937.6" r="2.2" fill="#98c043"/><circle cx="876.4" cy="934.9" r="2.5" fill="#b9d75e"/><circle cx="879.3" cy="939.4" r="2.2" fill="#98c043"/><circle cx="883.6" cy="936.4" r="2.5" fill="#b9d75e"/><circle cx="880.7" cy="931.9" r="2.2" fill="#98c043"/><path d="M827.1,979.8 L877.1,947.8 L885.7,943.3 L893.2,942.6 L889.4,949.1 L881.7,955.1 L831.8,987.0 Z" fill="#a5cb4b"/><path d="M828.3,981.5 L856.4,963.6" stroke="#c3dd74" stroke-width="2.8" fill="none"/><circle cx="856.8" cy="962.8" r="2.5" fill="#b9d75e"/><circle cx="859.7" cy="967.4" r="2.2" fill="#98c043"/><circle cx="864.0" cy="964.4" r="2.5" fill="#b9d75e"/><circle cx="861.1" cy="959.8" r="2.2" fill="#98c043"/><circle cx="865.7" cy="957.1" r="2.5" fill="#b9d75e"/><circle cx="868.6" cy="961.7" r="2.2" fill="#98c043"/><circle cx="873.0" cy="958.6" r="2.5" fill="#b9d75e"/><circle cx="870.0" cy="954.1" r="2.2" fill="#98c043"/><circle cx="874.6" cy="951.4" r="2.5" fill="#b9d75e"/><circle cx="877.5" cy="956.0" r="2.2" fill="#98c043"/><circle cx="881.9" cy="952.9" r="2.5" fill="#b9d75e"/><circle cx="879.0" cy="948.4" r="2.2" fill="#98c043"/><circle cx="883.5" cy="945.7" r="2.5" fill="#b9d75e"/><circle cx="886.4" cy="950.3" r="2.2" fill="#98c043"/><circle cx="890.8" cy="947.2" r="2.5" fill="#b9d75e"/><circle cx="887.9" cy="942.7" r="2.2" fill="#98c043"/><path d="M834.7,990.6 L884.4,958.6 L892.9,954.1 L900.4,953.4 L896.6,959.9 L889.0,965.8 L839.3,997.8 Z" fill="#a5cb4b"/><path d="M835.8,992.3 L863.8,974.4" stroke="#c3dd74" stroke-width="2.8" fill="none"/><circle cx="864.2" cy="973.6" r="2.5" fill="#b9d75e"/><circle cx="867.1" cy="978.2" r="2.2" fill="#98c043"/><circle cx="871.4" cy="975.1" r="2.5" fill="#b9d75e"/><circle cx="868.5" cy="970.6" r="2.2" fill="#98c043"/><circle cx="873.0" cy="967.9" r="2.5" fill="#b9d75e"/><circle cx="876.0" cy="972.5" r="2.2" fill="#98c043"/><circle cx="880.3" cy="969.4" r="2.5" fill="#b9d75e"/><circle cx="877.4" cy="964.9" r="2.2" fill="#98c043"/><circle cx="881.9" cy="962.2" r="2.5" fill="#b9d75e"/><circle cx="884.8" cy="966.8" r="2.2" fill="#98c043"/><circle cx="889.2" cy="963.7" r="2.5" fill="#b9d75e"/><circle cx="886.2" cy="959.2" r="2.2" fill="#98c043"/><circle cx="890.8" cy="956.5" r="2.5" fill="#b9d75e"/><circle cx="893.7" cy="961.0" r="2.2" fill="#98c043"/><circle cx="898.0" cy="958.0" r="2.5" fill="#b9d75e"/><circle cx="895.1" cy="953.5" r="2.2" fill="#98c043"/><path d="M832.5,960.9 L850.5,988.8 M837.9,958.2 L855.9,985.2" stroke="#8aa83a" stroke-width="0.9" fill="none"/>
<path d="M940.5,938.4C941.9,936.5 945.6,936.6 947.2,938.0C948.7,939.5 946.7,942.3 948.2,945.6C949.8,948.9 957.3,952.8 954.9,954.6C952.5,956.4 939.0,956.0 936.0,954.6C933.0,953.2 939.1,950.6 940.0,947.4C940.9,944.2 939.1,940.3 940.5,938.4Z" fill="#6fa83a"/><path d="M927.0,953.2C931.0,951.9 933.5,948.8 936.0,954.6C938.5,960.4 937.2,965.4 937.8,978.0C938.4,990.6 940.4,1001.7 938.7,1008.6C937.0,1015.5 934.4,1011.5 930.6,1007.7C926.8,1003.9 925.5,1000.2 922.5,992.4C919.5,984.6 918.5,982.0 917.6,974.4C916.8,966.8 916.7,965.0 918.9,960.0C921.1,955.0 923.0,954.4 927.0,953.2Z" fill="#ddae26"/><path d="M961.2,953.2C957.3,951.9 954.7,948.8 952.2,954.6C949.7,960.4 951.0,965.4 950.4,978.0C949.8,990.6 947.8,1001.7 949.5,1008.6C951.2,1015.5 953.9,1011.5 957.6,1007.7C961.3,1003.9 962.2,1000.2 965.2,992.4C968.1,984.6 969.4,982.0 970.2,974.4C971.0,966.8 970.9,965.0 968.8,960.0C966.7,955.0 965.1,954.4 961.2,953.2Z" fill="#eec01e"/><path d="M944.1,953.2C948.3,953.2 950.2,951.4 953.1,955.5C956.0,959.6 956.1,962.2 956.7,970.8C957.3,979.4 957.1,983.8 955.8,992.4C954.5,1001.0 954.0,1003.7 951.3,1007.7C948.6,1011.7 947.5,1009.5 944.1,1009.5C940.7,1009.5 939.6,1011.7 936.9,1007.7C934.2,1003.7 933.8,1001.0 932.4,992.4C931.0,983.8 930.3,979.4 931.0,970.8C931.6,962.2 932.0,959.6 935.1,955.5C938.2,951.4 939.9,953.2 944.1,953.2Z" fill="#f4c81f"/><path d="M944.1,953.7 L952.2,956.0 L955.4,970.8 L954.7,992.4 L950.8,1007.2 L944.1,1009.0Z" fill="#fbd720"/>
</g>
<!-- proteins -->
<g>
<g filter="url(#sh)"><path d="M462.7,1090.9C469.6,1091.4 472.9,1090.5 481.9,1095.6C490.8,1100.7 493.4,1104.2 501.1,1112.7C508.8,1121.1 510.5,1122.9 514.9,1131.9C519.4,1140.8 519.8,1143.1 520.3,1151.1C520.8,1159.0 520.6,1160.3 517.1,1166.0C513.6,1171.7 512.1,1172.7 505.3,1175.6C498.6,1178.5 495.2,1179.1 488.3,1178.4C481.3,1177.6 479.7,1176.8 475.5,1172.4C471.2,1168.0 471.6,1167.1 470.1,1159.6C468.6,1152.1 470.8,1148.4 469.1,1140.4C467.3,1132.4 466.6,1131.9 462.7,1125.5C458.7,1119.0 455.5,1118.1 452.0,1112.7C448.5,1107.2 447.7,1106.5 447.7,1102.0C447.7,1097.5 448.5,1096.1 452.0,1093.5C455.5,1090.9 455.7,1090.4 462.7,1090.9Z" fill="#fad5cd"/><path d="M463.7,1095.2C469.6,1095.9 472.2,1094.8 480.2,1099.4C488.1,1104.1 490.6,1107.3 497.9,1115.2C505.1,1123.2 507.1,1125.2 511.3,1133.6C515.5,1141.9 515.6,1144.0 516.0,1151.1C516.4,1158.1 516.1,1159.1 513.2,1163.9C510.3,1168.6 509.4,1169.2 503.6,1171.5C497.9,1173.9 494.7,1174.7 488.7,1174.1C482.7,1173.5 481.5,1172.6 478.0,1169.0C474.6,1165.4 475.2,1165.5 474.0,1158.5C472.8,1151.6 474.6,1147.4 472.9,1139.3C471.2,1131.2 470.5,1130.4 466.5,1123.8C462.5,1117.1 459.2,1115.9 455.8,1111.0C452.5,1106.0 452.1,1105.8 452.0,1102.4C451.9,1099.0 452.5,1098.1 455.2,1096.5C457.9,1094.8 457.9,1094.5 463.7,1095.2Z" fill="#f2795e"/><g stroke="#f9b5a0" stroke-width="1.5" fill="none" stroke-linecap="round"><path d="M488.3,1133.4C485.3,1130.5 479.4,1127.5 475.5,1121.2C471.5,1114.9 474.2,1111.7 471.2,1106.3C468.2,1100.8 464.7,1099.7 462.7,1097.7"/><path d="M488.3,1133.4C489.3,1129.5 493.5,1124.3 492.5,1116.9C491.5,1109.6 486.0,1105.5 484.0,1102.0"/><path d="M488.3,1133.4C491.8,1131.0 499.2,1126.7 503.2,1123.3C507.2,1120.0 504.8,1120.1 505.3,1119.1"/><path d="M488.3,1133.4C492.2,1135.0 499.4,1138.3 505.3,1140.4C511.3,1142.5 511.9,1142.0 513.9,1142.5"/><path d="M488.3,1133.4C490.8,1138.0 495.9,1144.6 498.9,1153.2C501.9,1161.8 500.6,1166.3 501.1,1170.3"/><path d="M488.3,1133.4C487.3,1137.5 484.5,1142.0 484.0,1151.1C483.5,1160.2 485.6,1167.4 486.1,1172.4"/><path d="M488.3,1133.4C485.8,1135.0 481.1,1138.3 477.6,1140.4C474.1,1142.5 474.3,1142.0 473.3,1142.5"/><path d="M458.4,1108.4C461.9,1107.4 465.9,1103.6 473.3,1104.1C480.8,1104.6 486.4,1109.0 490.4,1110.5"/><path d="M494.7,1155.3C497.2,1156.3 500.9,1159.1 505.3,1159.6C509.8,1160.1 511.9,1158.0 513.9,1157.5"/></g><ellipse cx="488.3" cy="1133.4" rx="8.2" ry="6.6" fill="#fdf3d2" transform="rotate(-15 488.3 1133.4)"/></g>
<g filter="url(#sh)"><path d="M630.1,1093.5C632.5,1101.0 631.6,1108.1 628.6,1119.1C625.7,1130.0 624.5,1132.4 617.3,1140.4C610.2,1148.4 608.1,1149.0 598.1,1153.2C588.2,1157.4 585.1,1157.9 574.7,1158.5C564.2,1159.1 560.7,1157.2 553.3,1155.8C546.0,1154.3 545.0,1155.4 543.3,1152.3C541.6,1149.3 546.5,1147.3 545.9,1142.5C545.2,1137.8 539.5,1132.1 540.5,1131.9C541.5,1131.6 544.2,1137.9 550.1,1141.5C556.1,1145.1 558.2,1146.5 566.1,1147.2C574.1,1148.0 576.3,1148.2 584.3,1144.7C592.2,1141.2 594.7,1139.5 600.3,1132.3C605.8,1125.1 606.2,1123.3 608.2,1113.7C610.2,1104.2 606.4,1097.7 608.8,1091.3C611.2,1085.0 613.4,1086.1 618.4,1086.6C623.4,1087.1 627.7,1085.9 630.1,1093.5Z" fill="#f9a02b"/><ellipse cx="619.0" cy="1093.0" rx="10.8" ry="5.8" fill="#fcddb0" transform="rotate(8 619.0 1093.0)"/><g stroke="#fbc070" stroke-width="0.6" fill="none"><path d="M609.4,1112.7C611.5,1113.4 613.9,1115.6 618.4,1115.9C622.9,1116.1 626.3,1114.2 628.6,1113.7"/><path d="M605.6,1125.5C607.6,1127.0 609.7,1130.6 614.1,1131.9C618.6,1133.1 622.3,1131.0 624.8,1130.8"/><path d="M594.9,1138.3C596.4,1140.3 598.3,1144.3 601.3,1146.8C604.3,1149.3 606.2,1148.4 607.7,1148.9"/><path d="M582.1,1145.7C582.9,1147.5 583.8,1150.9 585.3,1153.2C586.8,1155.5 587.8,1155.2 588.5,1155.8"/></g></g>
<g filter="url(#sh)"><path d="M695.2,1105.2C702.7,1106.2 706.3,1106.9 712.3,1112.7C718.2,1118.4 719.6,1120.8 720.8,1129.7C722.0,1138.7 721.1,1141.1 717.6,1151.1C714.1,1161.0 713.1,1163.7 705.9,1172.4C698.6,1181.1 696.1,1183.4 686.7,1188.4C677.2,1193.4 671.2,1193.5 665.3,1193.7C659.5,1194.0 659.5,1194.4 661.5,1189.5C663.5,1184.5 670.5,1178.9 673.9,1172.4C677.3,1165.9 677.2,1164.2 676.0,1161.7C674.8,1159.2 672.8,1158.2 668.5,1161.7C664.3,1165.2 662.0,1171.1 657.9,1176.7C653.7,1182.2 653.6,1185.6 650.8,1185.6C648.1,1185.6 647.2,1182.7 646.1,1176.7C645.0,1170.6 644.6,1168.6 646.1,1159.6C647.6,1150.6 648.1,1147.7 652.5,1138.3C657.0,1128.8 658.9,1126.0 665.3,1119.1C671.8,1112.1 673.3,1111.6 680.3,1108.4C687.2,1105.2 687.7,1104.2 695.2,1105.2Z" fill="#7f93aa"/><clipPath id="slc"><path d="M694.8,1108.0C701.5,1108.9 704.7,1109.6 710.1,1114.8C715.6,1120.0 716.9,1121.9 718.0,1130.2C719.1,1138.4 718.2,1140.9 714.8,1150.2C711.5,1159.6 710.6,1162.0 703.7,1170.3C696.9,1178.5 694.2,1180.8 685.6,1185.6C677.0,1190.4 671.8,1190.0 667.0,1190.7C662.3,1191.4 663.1,1192.8 665.3,1188.6C667.6,1184.4 673.5,1179.3 676.6,1172.8C679.8,1166.3 680.9,1163.9 678.8,1160.7C676.6,1157.5 672.8,1155.9 667.5,1159.2C662.1,1162.4 659.5,1169.5 655.7,1174.5C652.0,1179.6 652.8,1180.7 651.3,1180.9C649.7,1181.2 649.5,1180.5 648.9,1175.6C648.4,1170.7 647.5,1168.4 648.9,1160.0C650.4,1151.6 650.9,1148.6 655.1,1139.5C659.3,1130.5 661.0,1127.9 667.0,1121.2C673.1,1114.5 674.6,1114.0 681.1,1111.0C687.6,1107.9 688.0,1107.1 694.8,1108.0Z"/></clipPath><path d="M694.8,1108.0C701.5,1108.9 704.7,1109.6 710.1,1114.8C715.6,1120.0 716.9,1121.9 718.0,1130.2C719.1,1138.4 718.2,1140.9 714.8,1150.2C711.5,1159.6 710.6,1162.0 703.7,1170.3C696.9,1178.5 694.2,1180.8 685.6,1185.6C677.0,1190.4 671.8,1190.0 667.0,1190.7C662.3,1191.4 663.1,1192.8 665.3,1188.6C667.6,1184.4 673.5,1179.3 676.6,1172.8C679.8,1166.3 680.9,1163.9 678.8,1160.7C676.6,1157.5 672.8,1155.9 667.5,1159.2C662.1,1162.4 659.5,1169.5 655.7,1174.5C652.0,1179.6 652.8,1180.7 651.3,1180.9C649.7,1181.2 649.5,1180.5 648.9,1175.6C648.4,1170.7 647.5,1168.4 648.9,1160.0C650.4,1151.6 650.9,1148.6 655.1,1139.5C659.3,1130.5 661.0,1127.9 667.0,1121.2C673.1,1114.5 674.6,1114.0 681.1,1111.0C687.6,1107.9 688.0,1107.1 694.8,1108.0Z" fill="#f2906e"/><g clip-path="url(#slc)"><path d="M682.4,1104.1 L722.9,1104.1 L722.9,1176.7 L697.3,1189.5Z" fill="#f7ab8e"/><ellipse cx="677.7" cy="1154.9" rx="7.8" ry="11.9" fill="none" stroke="#fcd9bb" stroke-width="1.7" transform="rotate(-50 677.7 1154.9)"/><ellipse cx="677.7" cy="1154.9" rx="13.1" ry="20.0" fill="none" stroke="#fcd9bb" stroke-width="1.7" transform="rotate(-50 677.7 1154.9)"/><ellipse cx="677.7" cy="1154.9" rx="18.4" ry="28.1" fill="none" stroke="#fcd9bb" stroke-width="1.7" transform="rotate(-50 677.7 1154.9)"/><ellipse cx="677.7" cy="1154.9" rx="23.8" ry="36.2" fill="none" stroke="#fcd9bb" stroke-width="1.7" transform="rotate(-50 677.7 1154.9)"/></g><path d="M676.6,1160.7 L667.5,1159.2 L655.7,1174.5 L651.3,1180.9 L650.8,1185.6 L657.9,1176.7 L668.5,1161.7 L676.0,1161.7Z" fill="#7f93aa"/><circle cx="677.7" cy="1154.9" r="5.8" fill="#e2ecca"/></g>
<g filter="url(#sh)"><path d="M402.0,1248.0 L382.5,1275.3" stroke="#fdf2d0" stroke-width="10.5" stroke-linecap="round" fill="none"/><circle cx="373.9" cy="1277.9" r="6.6" fill="#fdf2d0"/><circle cx="381.7" cy="1286.5" r="6.6" fill="#fdf2d0"/><path d="M435.8,1186.1C443.1,1187.2 448.1,1187.5 454.0,1193.4C459.9,1199.3 460.7,1203.1 461.3,1211.6C461.9,1220.1 460.7,1221.9 456.6,1229.8C452.5,1237.7 450.9,1239.6 443.6,1245.4C436.3,1251.2 433.9,1252.1 425.4,1254.5C416.9,1256.9 413.9,1257.3 407.2,1255.8C400.5,1254.3 399.7,1253.5 396.8,1248.0C393.9,1242.5 394.1,1240.3 394.7,1232.4C395.3,1224.5 395.9,1222.1 399.4,1214.2C402.9,1206.3 404.3,1204.5 409.8,1198.6C415.3,1192.7 416.7,1191.6 422.8,1188.7C428.9,1185.8 428.5,1185.0 435.8,1186.1Z" fill="#ec9422"/></g>
<g filter="url(#sh)"><path d="M573.6,1209.0C577.8,1204.8 586.5,1204.3 594.4,1202.5C602.3,1200.7 609.2,1199.4 613.1,1199.9C617.0,1200.4 615.3,1202.0 613.9,1205.1C612.5,1208.2 605.9,1210.8 606.1,1215.5C606.3,1220.2 613.4,1225.2 614.7,1228.5C616.0,1231.8 616.7,1231.9 612.6,1231.9C608.5,1231.9 602.2,1230.2 594.4,1228.5C586.6,1226.8 577.8,1227.2 573.6,1223.3C569.4,1219.4 569.4,1213.2 573.6,1209.0Z" fill="#2496cc"/><path d="M513.8,1196.0C512.8,1192.6 524.5,1185.9 532.0,1181.7C539.5,1177.5 546.8,1174.4 551.5,1175.2C556.2,1176.0 554.5,1181.4 555.4,1185.6C556.3,1189.8 559.6,1193.4 555.9,1196.0C552.3,1198.6 545.6,1198.6 537.2,1198.6C528.8,1198.6 514.8,1199.4 513.8,1196.0Z" fill="#2496cc"/><path d="M495.6,1212.9C495.6,1206.2 495.9,1204.8 500.8,1199.9C505.7,1195.0 507.9,1194.5 516.4,1192.1C524.9,1189.7 527.5,1188.9 537.2,1189.5C546.9,1190.1 549.5,1190.8 558.0,1194.7C566.5,1198.6 568.9,1201.5 573.6,1206.4C578.3,1211.3 578.3,1210.9 578.3,1215.5C578.3,1220.0 578.3,1221.0 573.6,1225.9C568.9,1230.8 567.1,1232.5 558.0,1236.3C548.9,1240.1 544.9,1241.7 534.6,1242.3C524.3,1242.9 521.7,1242.1 513.8,1238.9C505.9,1235.7 505.0,1234.6 500.8,1228.5C496.6,1222.4 495.6,1219.6 495.6,1212.9Z" fill="#29a8e0"/><circle cx="509.1" cy="1211.6" r="3.6" fill="#2a2a3a"/><path d="M519.0,1196.0C521.1,1199.0 525.7,1202.3 528.1,1209.0C530.5,1215.7 531.5,1218.2 529.4,1224.6C527.3,1231.0 521.4,1233.6 519.0,1236.3" stroke="#2496cc" stroke-width="0.6" fill="none"/><path d="M534.6,1222.0C535.8,1224.4 535.6,1230.3 539.8,1232.4C544.0,1234.5 548.6,1233.2 552.8,1231.1C557.0,1229.0 556.8,1225.1 558.0,1223.3" stroke="#2496cc" stroke-width="0.6" fill="none"/></g>
<g filter="url(#sh)"><path d="M441.0,1297.4C443.7,1290.7 444.9,1289.3 454.0,1284.4C463.1,1279.5 467.9,1278.7 480.0,1276.6C492.1,1274.5 495.1,1274.4 506.0,1275.3C516.9,1276.2 519.4,1276.3 526.8,1280.5C534.2,1284.7 535.3,1286.5 537.7,1293.5C540.1,1300.5 539.1,1303.4 537.2,1310.4C535.3,1317.4 534.9,1319.0 529.4,1323.4C523.9,1327.8 521.7,1329.4 513.8,1329.1C505.9,1328.8 504.7,1324.3 495.6,1322.1C486.5,1319.9 484.5,1319.2 474.8,1319.5C465.1,1319.8 461.6,1324.9 454.0,1323.4C446.4,1321.9 445.3,1319.1 442.3,1313.0C439.3,1306.9 438.3,1304.1 441.0,1297.4Z" fill="#fddcb0"/><path d="M441.5,1296.1C443.8,1290.9 445.0,1288.9 454.0,1284.4C463.0,1279.8 467.9,1278.7 480.0,1276.6C492.1,1274.5 495.1,1274.4 506.0,1275.3C516.9,1276.2 519.5,1276.6 526.8,1280.5C534.1,1284.4 535.3,1286.7 537.2,1292.2C539.1,1297.7 537.5,1298.7 535.1,1303.9C532.7,1309.1 532.1,1310.8 526.8,1314.3C521.5,1317.8 519.8,1319.1 512.5,1318.7C505.2,1318.3 504.4,1314.5 495.6,1312.5C486.8,1310.4 484.2,1309.6 474.8,1309.9C465.4,1310.1 462.5,1314.3 455.3,1313.5C448.1,1312.7 447.3,1310.6 444.1,1306.5C440.9,1302.4 439.2,1301.3 441.5,1296.1Z" fill="#eb3f45"/><ellipse cx="515.1" cy="1295.1" rx="7.3" ry="5.4" fill="none" stroke="#fddcb0" stroke-width="1.7"/><path d="M460.5,1299.2C464.4,1297.6 469.5,1294.7 477.4,1292.2C485.3,1289.7 490.4,1289.2 494.3,1288.3" stroke="#fddcb0" stroke-width="0.8" fill="none" stroke-linecap="round"/><path d="M472.2,1294.8C475.2,1294.9 480.0,1294.7 485.2,1295.3C490.4,1295.9 492.2,1296.9 494.3,1297.4" stroke="#fddcb0" stroke-width="0.8" fill="none" stroke-linecap="round"/></g>
<g filter="url(#sh)"><g transform="translate(591.0,1278.4) rotate(0)"><clipPath id="eg0"><path d="M0.0,-24.2 C13.2,-24.2 21.3,-7.3 21.3,5.3 C21.3,16.9 11.7,24.2 0.0,24.2 C-11.7,24.2 -21.3,16.9 -21.3,5.3 C-21.3,-7.3 -13.2,-24.2 0.0,-24.2 Z"/></clipPath><path d="M0.0,-24.2 C13.2,-24.2 21.3,-7.3 21.3,5.3 C21.3,16.9 11.7,24.2 0.0,24.2 C-11.7,24.2 -21.3,16.9 -21.3,5.3 C-21.3,-7.3 -13.2,-24.2 0.0,-24.2 Z" fill="#f1f4d6"/><path clip-path="url(#eg0)" d="M-30,-30 H2.0 L-1.0,30 H-30 Z" fill="#d9deba"/></g><g transform="translate(635.5,1265.7) rotate(12)"><clipPath id="eg1"><path d="M0.0,-19.8 C11.0,-19.8 17.7,-5.9 17.7,4.3 C17.7,13.8 9.7,19.8 0.0,19.8 C-9.7,19.8 -17.7,13.8 -17.7,4.3 C-17.7,-5.9 -11.0,-19.8 0.0,-19.8 Z"/></clipPath><path d="M0.0,-19.8 C11.0,-19.8 17.7,-5.9 17.7,4.3 C17.7,13.8 9.7,19.8 0.0,19.8 C-9.7,19.8 -17.7,13.8 -17.7,4.3 C-17.7,-5.9 -11.0,-19.8 0.0,-19.8 Z" fill="#f1f4d6"/><path clip-path="url(#eg1)" d="M-30,-30 H3.5 L-4.0,30 H-30 Z" fill="#d9deba"/></g></g>
<g filter="url(#sh)"><path d="M694.5,1294.8 L711.4,1276.1" stroke="#fbe3b8" stroke-width="5.6" stroke-linecap="round" fill="none"/><circle cx="710.1" cy="1271.4" r="4.3" fill="#fbe3b8"/><circle cx="716.6" cy="1276.6" r="4.3" fill="#fbe3b8"/><path d="M695.8,1291.7C698.8,1293.5 700.0,1295.0 699.7,1300.0C699.4,1305.0 697.8,1307.5 694.5,1313.0C691.2,1318.5 690.2,1319.9 685.4,1323.4C680.5,1326.9 678.9,1327.8 673.7,1327.8C668.5,1327.8 666.5,1326.9 663.3,1323.4C660.1,1319.9 659.9,1317.9 660.2,1313.0C660.5,1308.1 661.1,1306.5 664.6,1302.6C668.1,1298.7 669.8,1298.5 675.0,1296.1C680.2,1293.7 681.8,1293.2 686.7,1292.2C691.5,1291.2 692.8,1289.9 695.8,1291.7Z" fill="#8b5e3c"/><path d="M660.2,1313.0C661.7,1311.8 664.5,1317.6 669.8,1318.2C675.1,1318.8 677.0,1316.8 682.8,1315.6C688.6,1314.4 693.9,1311.2 694.5,1313.0C695.1,1314.8 690.2,1319.9 685.4,1323.4C680.5,1326.9 678.9,1327.8 673.7,1327.8C668.5,1327.8 666.5,1326.9 663.3,1323.4C660.1,1319.9 658.7,1314.2 660.2,1313.0Z" fill="#7a5030"/></g>
</g>
<!-- dairy -->
<g>
<path d="M790.8,1094.6 L800.7,1094.6 L800.9,1102.7 L806.6,1113.7 L806.6,1152.6 L805.1,1155.1 L786.4,1155.1 L784.6,1152.6 L784.6,1113.7 L790.6,1102.7Z" fill="#2d9fe0"/><rect x="787.4" y="1089.5" width="16.6" height="5.6" rx="1.6" fill="#1b7fc0"/><path d="M786.6,1119.2 L805.1,1119.2 L805.1,1152.2 L804.0,1153.5 L787.5,1153.5 L786.6,1152.2Z" fill="#fff"/><path d="M792.1,1097.6 L794.8,1097.6 L794.8,1103.8 L788.2,1114.8 L786.6,1117.4 L786.6,1114.4 L792.1,1103.8Z" fill="#5ab6ea"/>
<linearGradient id="yg" x1="0" x2="1" y1="0" y2="0"><stop offset="0" stop-color="#d8d8d8"/><stop offset="0.35" stop-color="#ffffff"/><stop offset="0.8" stop-color="#f2f2f2"/><stop offset="1" stop-color="#cfcfcf"/></linearGradient><path d="M840.3,1084.0 L869.3,1084.0 L865.6,1108.6 L863.4,1111.1 L846.2,1111.1 L844.3,1108.6Z" fill="url(#yg)"/><path d="M843.8,1103.4 L866.0,1103.4 L865.6,1105.1 L844.0,1105.1Z" fill="#e4e4e4"/><path d="M838.1,1083.1 L843.2,1078.3 L866.7,1078.3 L871.8,1083.1 L870.0,1086.6 L839.6,1086.6Z" fill="#f48fb1"/><path d="M841.4,1081.8 L844.7,1079.2 L865.2,1079.2 L868.7,1081.8 L865.6,1083.6 L844.5,1083.6Z" fill="#f8bbd0"/>
<path d="M925.4,1069.7C925.7,1070.5 922.4,1074.2 923.2,1076.3C924.0,1078.4 927.8,1079.6 929.8,1081.4C931.9,1083.1 933.5,1084.1 934.2,1085.8C935.0,1087.4 932.7,1088.7 933.8,1090.2C934.8,1091.7 938.3,1092.5 940.0,1093.9C941.6,1095.3 942.7,1096.6 942.6,1097.6C942.5,1098.6 942.9,1099.0 939.3,1099.4C935.7,1099.8 929.0,1099.8 923.0,1099.8C917.0,1099.8 910.3,1099.8 906.7,1099.4C903.1,1099.0 903.6,1098.6 903.4,1097.6C903.3,1096.6 904.5,1095.3 906.1,1093.9C907.7,1092.5 911.3,1091.7 912.2,1090.2C913.2,1088.7 910.7,1087.4 911.4,1085.8C912.0,1084.1 914.6,1083.1 915.8,1081.4C916.9,1079.6 916.4,1078.0 917.5,1076.3C918.6,1074.6 920.5,1073.3 921.9,1072.1C923.4,1070.9 925.2,1068.9 925.4,1069.7Z" fill="#fdd9a8"/><path d="M903.4,1097.2 L942.6,1097.2 L942.6,1099.0 L903.4,1099.0Z" fill="#fdd9a8"/><path d="M903.0,1098.5 L943.0,1098.5 L936.0,1108.2 L933.8,1109.1 L912.2,1109.1 L910.3,1108.2Z" fill="#2a96d0"/>
<path d="M962.8,1055.0 L989.9,1051.0 L1017.0,1060.9 L998.7,1068.2Z" fill="#f9e86a"/><path d="M962.8,1055.0 L998.7,1068.2 L998.0,1088.8 L963.5,1075.2Z" fill="#ecd044"/><path d="M998.7,1068.2 L1017.0,1060.9 L1016.3,1067.5 L999.8,1087.3Z" fill="#f5df58"/><path d="M1002.0,1070.8 L1019.6,1062.0 L1029.5,1064.6 L1006.4,1089.5Z" fill="#fbec7c"/><path d="M999.8,1073.0 L1002.0,1070.8 L1006.4,1089.5 L1003.1,1090.6Z" fill="#e6c73c"/><path d="M1011.9,1075.6 L1029.5,1066.8 L1039.4,1069.5 L1016.3,1094.3Z" fill="#fbec7c"/><path d="M1009.7,1077.8 L1011.9,1075.6 L1016.3,1094.3 L1013.0,1095.4Z" fill="#e6c73c"/><path d="M1011.9,1087.3 L1030.6,1080.7 L1053.0,1086.6 L1033.9,1093.9Z" fill="#f9e86a"/><path d="M1011.9,1087.3 L1033.9,1093.9 L1033.9,1098.1 L1012.3,1091.0Z" fill="#e6c73c"/><path d="M1033.9,1093.9 L1053.0,1086.6 L1052.6,1091.7 L1033.9,1098.1Z" fill="#f2d94e"/>
<path d="M867.8,1137.9 L885.4,1129.8 L899.0,1134.6 L898.6,1165.0 L896.8,1165.4 L869.6,1169.4 L867.8,1167.6Z" fill="#c62828"/><path d="M868.2,1137.7 L885.4,1130.2 L898.6,1134.6 L869.1,1139.4Z" fill="#e53935"/><path d="M869.1,1139.9 L897.3,1135.9 L896.6,1163.6 L869.8,1167.6Z" fill="#f6d970"/><path d="M870.0,1140.8 L883.2,1139.0 L874.4,1166.5 L870.4,1166.9Z" fill="#fbe89a"/><g fill="#e0b84a"><ellipse cx="873.3" cy="1147.8" rx="0.6" ry="1.2"/><ellipse cx="887.6" cy="1143.4" rx="0.6" ry="1.2"/><ellipse cx="892.0" cy="1158.8" rx="0.6" ry="1.2"/><ellipse cx="878.8" cy="1158.8" rx="0.6" ry="1.2"/><ellipse cx="884.3" cy="1151.1" rx="0.6" ry="1.2"/></g>
<path d="M949.6,1136.8 L984.4,1129.8 L1016.3,1139.7 L982.2,1149.1Z" fill="#f3d55e"/><path d="M949.6,1136.8 L982.2,1149.1 L1016.3,1139.7 L1016.3,1141.2 L982.2,1150.9 L949.6,1138.3Z" fill="#e2b53c"/><path d="M948.3,1132.0 L983.1,1124.9 L1015.0,1134.8 L980.9,1144.3Z" fill="#f9e481"/><path d="M948.3,1132.0 L980.9,1144.3 L1015.0,1134.8 L1015.0,1136.4 L980.9,1146.0 L948.3,1133.5Z" fill="#e2b53c"/><path d="M950.7,1127.1 L985.5,1120.1 L1017.4,1130.0 L983.3,1139.4Z" fill="#f3d55e"/><path d="M950.7,1127.1 L983.3,1139.4 L1017.4,1130.0 L1017.4,1131.5 L983.3,1141.2 L950.7,1128.7Z" fill="#e2b53c"/><path d="M948.8,1122.3 L983.5,1115.2 L1015.4,1125.1 L981.3,1134.6Z" fill="#f9e481"/><path d="M948.8,1122.3 L981.3,1134.6 L1015.4,1125.1 L1015.4,1126.7 L981.3,1136.4 L948.8,1123.8Z" fill="#e2b53c"/><path d="M949.6,1117.4 L984.4,1110.4 L1016.3,1120.3 L982.2,1129.8Z" fill="#fcee9c"/><path d="M949.6,1117.4 L982.2,1129.8 L1016.3,1120.3 L1016.3,1121.8 L982.2,1131.5 L949.6,1119.0Z" fill="#e2b53c"/>
<path d="M1028.4,1134.6 L1052.6,1131.3 L1077.2,1140.1 L1053.7,1145.2Z" fill="#f9e86a"/><path d="M1028.4,1134.6 L1053.7,1145.2 L1053.7,1163.2 L1028.8,1151.1Z" fill="#e6c73c"/><path d="M1053.7,1145.2 L1077.2,1140.1 L1076.8,1157.7 L1053.7,1163.2Z" fill="#f4dc52"/><path d="M1026.6,1159.9C1026.6,1157.0 1026.7,1155.9 1029.5,1153.3C1032.3,1150.7 1033.1,1150.0 1037.2,1150.0C1041.3,1150.0 1042.4,1150.7 1044.9,1153.3C1047.4,1155.9 1047.0,1156.7 1046.4,1159.9C1045.9,1163.1 1045.7,1163.6 1042.7,1165.4C1039.6,1167.2 1038.5,1166.8 1035.0,1166.5C1031.5,1166.2 1031.7,1166.1 1029.5,1164.3C1027.3,1162.5 1026.6,1162.8 1026.6,1159.9Z" fill="#f7e055"/><path d="M1029.5,1157.7C1030.7,1156.5 1031.0,1154.2 1033.9,1153.3C1036.8,1152.4 1038.2,1152.6 1040.5,1154.4C1042.8,1156.2 1043.3,1157.6 1042.7,1159.9C1042.1,1162.2 1040.4,1163.2 1038.3,1163.2C1036.2,1163.2 1035.9,1160.8 1035.0,1159.9" stroke="#d9b52f" stroke-width="0.7" fill="none"/><path d="M1048.2,1159.9C1049.3,1156.8 1049.4,1156.3 1052.6,1154.8C1055.8,1153.4 1056.8,1153.3 1060.3,1154.4C1063.8,1155.5 1064.4,1155.6 1065.8,1158.8C1067.1,1162.0 1066.8,1163.3 1065.4,1166.5C1063.9,1169.7 1063.7,1169.9 1060.3,1170.9C1056.9,1171.9 1055.7,1171.4 1052.6,1170.2C1049.5,1169.1 1049.8,1169.3 1048.6,1166.5C1047.5,1163.7 1047.1,1163.0 1048.2,1159.9Z" fill="#f7e055"/><path d="M1049.3,1160.6 H1065.4 M1048.9,1163.6 H1065.6 M1049.5,1166.9 H1064.7" stroke="#d9b52f" stroke-width="0.7" fill="none"/>
</g>
<!-- dry fruits and seeds -->
<g>
<path d="M801.0,1262.5 Q825.4,1248.1 804.1,1229.5 Q779.6,1243.9 801.0,1262.5 Z" fill="#3a8a2c"/><path d="M801.0,1262.5 Q825.4,1248.1 804.1,1229.5 Q806.0,1246.3 801.0,1262.5 Z" fill="#6bb046" opacity="0.6"/><path d="M799.5,1262.5 Q820.2,1271.0 820.9,1248.7 Q800.3,1240.1 799.5,1262.5 Z" fill="#3a8a2c"/><path d="M799.5,1262.5 Q820.2,1271.0 820.9,1248.7 Q811.7,1257.9 799.5,1262.5 Z" fill="#6bb046" opacity="0.6"/><path d="M769.6,1259.4C770.8,1256.7 771.0,1255.1 774.9,1254.0C778.8,1253.0 780.2,1257.2 784.1,1255.6C788.0,1253.9 786.4,1250.4 789.5,1247.9C792.6,1245.4 792.9,1244.9 795.6,1246.4C798.4,1247.8 799.2,1249.0 799.8,1253.3C800.4,1257.6 800.5,1258.6 797.9,1262.5C795.4,1266.4 795.6,1266.6 790.3,1267.8C785.0,1269.1 783.3,1268.1 778.0,1267.1C772.7,1266.0 772.6,1266.0 770.3,1264.0C768.1,1262.0 768.3,1262.1 769.6,1259.4Z" fill="#6b4a2a"/><path d="M770.0,1260.2C771.3,1258.0 771.7,1256.8 775.7,1256.0C779.7,1255.2 780.9,1258.7 784.9,1257.1C788.9,1255.5 787.8,1252.4 790.6,1250.2C793.3,1248.0 793.2,1247.7 795.2,1249.0C797.1,1250.2 797.7,1251.3 797.9,1254.8C798.2,1258.3 798.3,1258.9 796.1,1262.2C793.8,1265.4 794.3,1265.8 789.5,1267.1C784.7,1268.3 782.9,1267.6 778.0,1266.8C773.1,1265.9 773.2,1265.8 771.1,1264.0C769.0,1262.2 768.8,1262.3 770.0,1260.2Z" fill="#f0d9a8"/><path d="M773.4,1262.5C777.1,1258.8 778.3,1260.9 785.7,1260.9C793.0,1260.9 793.6,1262.9 801.0,1262.5C808.4,1262.1 809.6,1257.8 813.3,1259.4C816.9,1261.0 818.1,1264.5 814.8,1268.6C811.5,1272.7 808.8,1272.3 801.0,1274.7C793.2,1277.2 793.4,1277.8 785.7,1277.8C777.9,1277.8 775.1,1278.8 771.9,1274.7C768.6,1270.6 769.7,1266.1 773.4,1262.5Z" fill="#ecd3a0"/><path d="M786.4,1262.5C787.0,1259.6 788.3,1258.6 791.8,1259.4C795.3,1260.2 795.0,1264.3 799.5,1265.5C804.0,1266.8 804.8,1266.7 808.7,1264.0C812.6,1261.3 811.5,1256.8 814.0,1255.6C816.6,1254.3 817.4,1255.9 818.2,1259.4C819.0,1262.9 819.2,1264.6 817.1,1268.6C815.0,1272.6 814.9,1272.7 810.2,1274.4C805.5,1276.1 805.0,1276.2 799.5,1275.0C793.9,1273.9 793.0,1273.5 789.5,1270.1C786.0,1266.8 785.8,1265.3 786.4,1262.5Z" fill="#f6e3ba"/><path d="M789.5,1270.1C789.5,1269.2 793.9,1271.7 799.5,1271.7C805.0,1271.7 805.5,1272.0 810.2,1270.1C814.9,1268.3 815.3,1265.2 817.1,1264.8C818.9,1264.4 818.9,1266.0 817.1,1268.6C815.3,1271.2 814.9,1272.7 810.2,1274.4C805.5,1276.1 805.0,1276.2 799.5,1275.0C793.9,1273.9 789.5,1271.0 789.5,1270.1Z" fill="#e9cd98"/><path d="M766.5,1267.1C767.1,1264.1 767.9,1262.2 770.3,1262.2C772.8,1262.2 772.0,1264.7 775.7,1267.1C779.4,1269.4 779.6,1270.2 784.1,1270.9C788.6,1271.6 789.1,1269.2 792.6,1269.8C796.0,1270.4 796.8,1270.7 797.2,1273.2C797.6,1275.7 797.6,1276.8 794.1,1279.3C790.6,1281.9 789.7,1282.7 784.1,1282.7C778.6,1282.7 777.7,1281.9 773.4,1279.3C769.1,1276.8 769.9,1276.5 768.0,1273.2C766.2,1269.9 765.9,1270.0 766.5,1267.1Z" fill="#f6e3ba"/><path d="M768.0,1273.2C768.0,1272.4 769.1,1274.7 773.4,1276.3C777.7,1277.8 778.6,1279.0 784.1,1279.0C789.7,1279.0 790.8,1277.6 794.1,1276.3C797.4,1274.9 796.4,1273.1 796.4,1274.0C796.4,1274.8 797.4,1277.0 794.1,1279.3C790.8,1281.7 789.7,1282.7 784.1,1282.7C778.6,1282.7 777.7,1281.9 773.4,1279.3C769.1,1276.8 768.0,1274.0 768.0,1273.2Z" fill="#e9cd98"/>
<path d="M877.7,1262.5 Q888.9,1248.6 873.1,1240.2 Q861.9,1254.1 877.7,1262.5 Z" fill="#3f8f2c"/><path d="M877.7,1262.5 Q888.9,1248.6 873.1,1240.2 Q877.4,1250.9 877.7,1262.5 Z" fill="#79b84a" opacity="0.6"/><path d="M877.7,1264.0 Q870.0,1247.8 857.0,1260.2 Q864.7,1276.4 877.7,1264.0 Z" fill="#3f8f2c"/><path d="M877.7,1264.0 Q870.0,1247.8 857.0,1260.2 Q867.7,1259.9 877.7,1264.0 Z" fill="#79b84a" opacity="0.6"/><path d="M879.2,1262.5 Q891.1,1263.6 889.9,1251.7 Q878.1,1250.6 879.2,1262.5 Z" fill="#3f8f2c"/><path d="M879.2,1262.5 Q891.1,1263.6 889.9,1251.7 Q885.5,1258.1 879.2,1262.5 Z" fill="#79b84a" opacity="0.6"/><path d="M876.1,1264.8 Q867.3,1263.5 867.7,1272.4 Q876.6,1273.7 876.1,1264.8 Z" fill="#3f8f2c"/><path d="M876.1,1264.8 Q867.3,1263.5 867.7,1272.4 Q871.2,1267.8 876.1,1264.8 Z" fill="#79b84a" opacity="0.6"/><path d="M916.0,1277.8 Q914.2,1288.7 925.2,1288.5 Q927.0,1277.7 916.0,1277.8 Z" fill="#3f8f2c"/><path d="M916.0,1277.8 Q914.2,1288.7 925.2,1288.5 Q919.6,1284.0 916.0,1277.8 Z" fill="#79b84a" opacity="0.6"/><path d="M876.1,1264.0C878.4,1261.1 879.6,1260.5 885.3,1257.9C891.1,1255.2 892.3,1256.5 897.6,1254.0C902.9,1251.6 900.4,1250.1 905.3,1248.7C910.2,1247.2 911.5,1247.0 916.0,1248.7C920.5,1250.3 921.1,1251.5 922.1,1254.8C923.2,1258.1 922.7,1258.5 919.8,1260.9C917.0,1263.4 916.1,1262.4 911.4,1264.0C906.7,1265.6 907.1,1265.2 902.2,1267.1C897.3,1268.9 898.3,1269.7 893.0,1270.9C887.7,1272.1 886.6,1272.3 882.3,1271.7C878.0,1271.1 878.5,1270.6 876.9,1268.6C875.3,1266.6 873.9,1266.9 876.1,1264.0Z" fill="#d9b570"/><path d="M885.3,1259.4C887.4,1257.2 892.1,1257.9 897.6,1255.6C903.1,1253.2 901.3,1251.9 906.0,1250.5C910.7,1249.2 911.6,1249.3 915.2,1250.5C918.9,1251.7 920.9,1253.1 919.8,1255.1C918.8,1257.1 916.5,1256.3 911.4,1257.9C906.3,1259.4 906.4,1259.3 900.7,1260.9C894.9,1262.6 894.0,1264.4 889.9,1264.0C885.8,1263.6 883.3,1261.6 885.3,1259.4Z" fill="#e6c988"/><path d="M913.7,1271.7C915.5,1269.0 917.0,1268.6 922.1,1267.1C927.2,1265.5 927.8,1264.6 932.9,1265.8C938.0,1267.1 938.2,1268.1 941.3,1271.7C944.4,1275.3 944.4,1276.1 944.4,1279.3C944.4,1282.6 944.8,1283.1 941.3,1283.9C937.8,1284.8 936.4,1283.6 931.3,1282.4C926.2,1281.2 926.4,1280.8 922.1,1279.3C917.8,1277.9 917.5,1279.1 915.2,1277.0C913.0,1275.0 911.9,1274.3 913.7,1271.7Z" fill="#d2ad66"/><ellipse cx="908.5" cy="1265.7" rx="7.5" ry="4.8" fill="#8e2c35" transform="rotate(15 908.5 1265.7)"/><ellipse cx="920.2" cy="1267.8" rx="5.8" ry="4.3" fill="#7d2630" transform="rotate(10 920.2 1267.8)"/><ellipse cx="874.6" cy="1274.7" rx="8.0" ry="5.8" fill="#8e2c35" transform="rotate(10 874.6 1274.7)"/><ellipse cx="906.6" cy="1276.4" rx="7.8" ry="6.0" fill="#962f38" transform="rotate(-15 906.6 1276.4)"/><ellipse cx="892.5" cy="1272.6" rx="6.9" ry="3.7" fill="#f1dba6" transform="rotate(-10 892.5 1272.6)"/><ellipse cx="887.6" cy="1280.9" rx="7.7" ry="4.9" fill="#f1dba6" transform="rotate(5 887.6 1280.9)"/><ellipse cx="888.0" cy="1280.5" rx="5.0" ry="2.7" fill="#e2c27e" transform="rotate(5 888.0 1280.5)"/>
<path d="M808.7,1297.7 Q819.1,1293.6 811.7,1285.2 Q801.3,1289.3 808.7,1297.7 Z" fill="#3a8a2c"/><path d="M808.7,1297.7 Q819.1,1293.6 811.7,1285.2 Q811.5,1291.8 808.7,1297.7 Z" fill="#6bb046" opacity="0.6"/><path d="M807.1,1298.5 Q805.4,1290.5 797.6,1293.1 Q799.4,1301.2 807.1,1298.5 Z" fill="#3a8a2c"/><path d="M807.1,1298.5 Q805.4,1290.5 797.6,1293.1 Q802.8,1295.0 807.1,1298.5 Z" fill="#6bb046" opacity="0.6"/><path d="M814.8,1316.1 Q801.9,1310.9 795.2,1323.0 Q808.0,1328.3 814.8,1316.1 Z" fill="#3a8a2c"/><path d="M814.8,1316.1 Q801.9,1310.9 795.2,1323.0 Q804.5,1318.3 814.8,1316.1 Z" fill="#6bb046" opacity="0.6"/><ellipse cx="806.7" cy="1301.8" rx="10.0" ry="4.8" fill="#c87533" transform="rotate(10 806.7 1301.8)"/><ellipse cx="806.4" cy="1300.2" rx="7.7" ry="2.1" fill="#dc9555" transform="rotate(10 806.4 1300.2)"/><ellipse cx="813.8" cy="1311.7" rx="7.4" ry="6.0" fill="#c26c2c" transform="rotate(-25 813.8 1311.7)"/><path d="M819.4,1298.5C821.5,1296.9 822.5,1298.1 825.5,1300.8C828.6,1303.5 829.3,1304.0 830.9,1308.5C832.5,1313.0 832.4,1314.6 831.4,1317.7C830.3,1320.7 829.8,1320.8 827.1,1320.0C824.3,1319.1 823.5,1318.1 820.9,1314.6C818.4,1311.1 818.0,1311.2 817.6,1306.9C817.2,1302.6 817.3,1300.1 819.4,1298.5Z" fill="#f4d9b0"/><path d="M814.0,1307.7C814.6,1305.7 817.5,1305.1 819.4,1306.2C821.3,1307.2 821.9,1309.5 821.2,1311.5C820.6,1313.6 819.0,1314.9 817.1,1313.8C815.2,1312.8 813.4,1309.7 814.0,1307.7Z" fill="#e8c090"/>
<ellipse cx="878.7" cy="1310.5" rx="8.4" ry="9.0" fill="#c99a80" transform="rotate(25 878.7 1310.5)"/><path d="M876.9,1313.1 L886.9,1300.0 L885.3,1305.4Z" fill="#6cb43a"/><ellipse cx="895.9" cy="1321.5" rx="9.4" ry="6.1" fill="#c99a80" transform="rotate(-20 895.9 1321.5)"/><path d="M893.0,1322.0 L905.3,1316.1 L902.2,1319.5Z" fill="#6cb43a"/>
<path d="M1009.8,1245.6 Q1020.2,1230.4 1002.9,1224.1 Q992.5,1239.3 1009.8,1245.6 Z" fill="#3f8f2c"/><path d="M1009.8,1245.6 Q1020.2,1230.4 1002.9,1224.1 Q1008.4,1234.2 1009.8,1245.6 Z" fill="#79b84a" opacity="0.6"/><path d="M1011.3,1244.1 Q1031.5,1247.7 1032.8,1227.2 Q1012.6,1223.6 1011.3,1244.1 Z" fill="#3f8f2c"/><path d="M1011.3,1244.1 Q1031.5,1247.7 1032.8,1227.2 Q1023.5,1237.4 1011.3,1244.1 Z" fill="#79b84a" opacity="0.6"/><path d="M1009.0,1248.7 Q1011.9,1263.9 1026.7,1259.4 Q1023.8,1244.2 1009.0,1248.7 Z" fill="#3f8f2c"/><path d="M1009.0,1248.7 Q1011.9,1263.9 1026.7,1259.4 Q1017.0,1255.5 1009.0,1248.7 Z" fill="#79b84a" opacity="0.6"/><path d="M1003.7,1253.3 Q1003.7,1267.0 1017.5,1266.3 Q1017.4,1252.5 1003.7,1253.3 Z" fill="#3f8f2c"/><path d="M1003.7,1253.3 Q1003.7,1267.0 1017.5,1266.3 Q1009.5,1260.9 1003.7,1253.3 Z" fill="#79b84a" opacity="0.6"/><path d="M966.9,1273.2 Q979.6,1280.8 989.9,1270.1 Q977.2,1262.5 966.9,1273.2 Z" fill="#3f8f2c"/><path d="M966.9,1273.2 Q979.6,1280.8 989.9,1270.1 Q978.5,1273.0 966.9,1273.2 Z" fill="#79b84a" opacity="0.6"/><radialGradient id="wn" cx="0.4" cy="0.35" r="0.7"><stop offset="0" stop-color="#c08a4a"/><stop offset="1" stop-color="#8a5526"/></radialGradient><ellipse cx="995.2" cy="1241.3" rx="14.2" ry="15.2" fill="url(#wn)"/><ellipse cx="975.3" cy="1252.5" rx="11" ry="13" fill="#d9a862"/><circle cx="969.9" cy="1245.6" r="6.9" fill="#e2b775"/><circle cx="978.4" cy="1241.0" r="5.8" fill="#e8c184"/><circle cx="966.9" cy="1254.8" r="5.4" fill="#d9a862"/><circle cx="975.3" cy="1259.4" r="6.4" fill="#e2b775"/><circle cx="983.0" cy="1248.7" r="5.4" fill="#d9a862"/><circle cx="971.5" cy="1262.5" r="4.6" fill="#e8c184"/><circle cx="981.4" cy="1256.3" r="4.6" fill="#e8c184"/>
<ellipse cx="1052.4" cy="1225.5" rx="5.8" ry="12.1" fill="#9b5523" transform="rotate(-12 1052.4 1225.5)"/><ellipse cx="1064.5" cy="1216.1" rx="4.4" ry="9.6" fill="#9b5523" transform="rotate(5 1064.5 1216.1)"/><ellipse cx="1071.7" cy="1235.5" rx="6.4" ry="11.3" fill="#c98560" transform="rotate(18 1071.7 1235.5)"/>
<path d="M996.0,1302.3 Q1004.8,1291.3 995.2,1280.9 Q986.4,1291.9 996.0,1302.3 Z" fill="#3a8a2c"/><path d="M996.0,1302.3 Q1004.8,1291.3 995.2,1280.9 Q997.0,1291.6 996.0,1302.3 Z" fill="#6bb046" opacity="0.6"/><path d="M994.5,1303.1 Q991.5,1290.8 978.8,1290.4 Q981.8,1302.7 994.5,1303.1 Z" fill="#3a8a2c"/><path d="M994.5,1303.1 Q991.5,1290.8 978.8,1290.4 Q987.4,1295.8 994.5,1303.1 Z" fill="#6bb046" opacity="0.6"/><path d="M1000.6,1317.7 Q984.6,1313.1 975.8,1327.2 Q991.7,1331.7 1000.6,1317.7 Z" fill="#3a8a2c"/><path d="M1000.6,1317.7 Q984.6,1313.1 975.8,1327.2 Q987.6,1321.0 1000.6,1317.7 Z" fill="#6bb046" opacity="0.6"/><ellipse cx="988.3" cy="1308.1" rx="11.0" ry="7.3" fill="#c87533" transform="rotate(-10 988.3 1308.1)"/><ellipse cx="988.0" cy="1305.0" rx="8.1" ry="2.7" fill="#dc9555" transform="rotate(-10 988.0 1305.0)"/><ellipse cx="1001.7" cy="1314.4" rx="8.4" ry="7.5" fill="#c26c2c" transform="rotate(-30 1001.7 1314.4)"/><path d="M999.1,1299.3C1000.9,1296.6 1002.2,1295.8 1006.7,1295.4C1011.2,1295.0 1011.6,1294.7 1015.9,1297.7C1020.2,1300.8 1021.2,1302.8 1022.8,1306.9C1024.5,1311.0 1024.3,1310.8 1022.1,1313.1C1019.8,1315.3 1018.9,1315.8 1014.4,1315.4C1009.9,1315.0 1009.1,1314.2 1005.2,1311.5C1001.3,1308.9 1001.5,1308.7 999.8,1305.4C998.2,1302.1 997.2,1301.9 999.1,1299.3Z" fill="#f4d9b0"/><path d="M997.5,1308.5C998.4,1307.0 1000.4,1306.5 1003.7,1306.9C1006.9,1307.3 1009.0,1308.4 1009.8,1310.0C1010.6,1311.6 1009.2,1312.5 1006.7,1313.1C1004.3,1313.7 1003.1,1313.5 1000.6,1312.3C998.1,1311.1 996.7,1309.9 997.5,1308.5Z" fill="#efc9a0"/>
<path d="M1071.1,1287.0 Q1086.5,1275.1 1071.1,1263.2 Q1055.8,1275.1 1071.1,1287.0 Z" fill="#3f8f2c"/><path d="M1071.1,1287.0 Q1086.5,1275.1 1071.1,1263.2 Q1073.4,1275.1 1071.1,1287.0 Z" fill="#79b84a" opacity="0.6"/><path d="M1098.0,1288.5 Q1117.8,1291.8 1117.9,1271.7 Q1098.0,1268.4 1098.0,1288.5 Z" fill="#4a9834"/><path d="M1098.0,1288.5 Q1117.8,1291.8 1117.9,1271.7 Q1109.4,1281.9 1098.0,1288.5 Z" fill="#86c050" opacity="0.6"/><path d="M1106.4,1296.2 Q1115.6,1312.3 1127.1,1297.7 Q1117.9,1281.7 1106.4,1296.2 Z" fill="#3f8f2c"/><path d="M1106.4,1296.2 Q1115.6,1312.3 1127.1,1297.7 Q1116.6,1299.3 1106.4,1296.2 Z" fill="#79b84a" opacity="0.6"/><ellipse cx="1083.4" cy="1282.9" rx="8.4" ry="11.5" fill="#eadfb8" transform="rotate(25 1083.4 1282.9)"/><ellipse cx="1091.5" cy="1279.7" rx="5.0" ry="7.3" fill="#b5cc3e" transform="rotate(20 1091.5 1279.7)"/><ellipse cx="1093.0" cy="1285.5" rx="8.1" ry="10.7" fill="#efe6c4" transform="rotate(35 1093.0 1285.5)"/><ellipse cx="1067.5" cy="1297.5" rx="10.5" ry="11.3" fill="#b5cc3e" transform="rotate(20 1067.5 1297.5)"/><ellipse cx="1100.3" cy="1299.0" rx="13.0" ry="9.7" fill="#eadfb8" transform="rotate(15 1100.3 1299.0)"/><ellipse cx="1099.9" cy="1296.0" rx="9.6" ry="4.8" fill="#f4edd2" transform="rotate(15 1099.9 1296.0)"/><ellipse cx="1083.0" cy="1304.9" rx="11.1" ry="7.9" fill="#bfd445" transform="rotate(-10 1083.0 1304.9)"/>
</g>
</svg>
</body>
</html>
